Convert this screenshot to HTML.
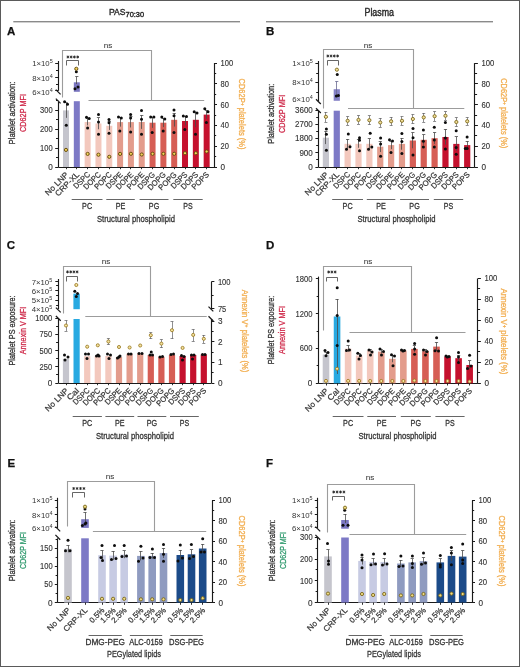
<!DOCTYPE html><html><head><meta charset="utf-8"><style>html,body{margin:0;padding:0;background:#fff;}svg{display:block;will-change:transform;}text{font-family:"Liberation Sans",sans-serif;}</style></head><body><svg width="520" height="667" viewBox="0 0 520 667"><rect x="0" y="0" width="520" height="667" fill="#ffffff"/><rect x="0.5" y="0.5" width="519" height="666" fill="none" stroke="#5a5a5a" stroke-width="1"/><text x="109" y="14.6" font-size="9.8" fill="#2a2a2a" stroke="#2a2a2a" stroke-width="0.4"><tspan textLength="16.5" lengthAdjust="spacingAndGlyphs">PAS</tspan><tspan dy="2.0" font-size="7.4" textLength="18.6" lengthAdjust="spacingAndGlyphs">70:30</tspan></text><text x="364.5" y="16.4" font-size="10" text-anchor="start" fill="#2a2a2a" textLength="29.5" lengthAdjust="spacingAndGlyphs" stroke="#2a2a2a" stroke-width="0.4">Plasma</text><rect x="13.3" y="21" width="226.7" height="1.4" fill="#8a8a8a"/><rect x="266" y="21" width="227" height="1.4" fill="#8a8a8a"/><text x="7" y="34.7" font-size="11.5" text-anchor="start" fill="#111" font-weight="bold" stroke="#111" stroke-width="0.25">A</text><text x="266" y="34.7" font-size="11.5" text-anchor="start" fill="#111" font-weight="bold" stroke="#111" stroke-width="0.25">B</text><text x="6.7" y="249.1" font-size="11.5" text-anchor="start" fill="#111" font-weight="bold" stroke="#111" stroke-width="0.25">C</text><text x="266" y="249.1" font-size="11.5" text-anchor="start" fill="#111" font-weight="bold" stroke="#111" stroke-width="0.25">D</text><text x="7.5" y="466.7" font-size="11.5" text-anchor="start" fill="#111" font-weight="bold" stroke="#111" stroke-width="0.25">E</text><text x="266" y="466.7" font-size="11.5" text-anchor="start" fill="#111" font-weight="bold" stroke="#111" stroke-width="0.25">F</text><line x1="58.5" y1="61" x2="58.5" y2="90.8" stroke="#1a1a1a" stroke-width="1.15" stroke-linecap="butt"/><line x1="58.5" y1="101.9" x2="58.5" y2="167" stroke="#1a1a1a" stroke-width="1.15" stroke-linecap="butt"/><line x1="55.2" y1="167.5" x2="58.2" y2="167.5" stroke="#1a1a1a" stroke-width="1.0" stroke-linecap="butt"/><line x1="56" y1="157.5" x2="58.2" y2="157.5" stroke="#1a1a1a" stroke-width="1.0" stroke-linecap="butt"/><line x1="55.2" y1="148.5" x2="58.2" y2="148.5" stroke="#1a1a1a" stroke-width="1.0" stroke-linecap="butt"/><line x1="56" y1="138.5" x2="58.2" y2="138.5" stroke="#1a1a1a" stroke-width="1.0" stroke-linecap="butt"/><line x1="55.2" y1="129.5" x2="58.2" y2="129.5" stroke="#1a1a1a" stroke-width="1.0" stroke-linecap="butt"/><line x1="56" y1="119.5" x2="58.2" y2="119.5" stroke="#1a1a1a" stroke-width="1.0" stroke-linecap="butt"/><line x1="55.2" y1="110.5" x2="58.2" y2="110.5" stroke="#1a1a1a" stroke-width="1.0" stroke-linecap="butt"/><line x1="56" y1="100.5" x2="58.2" y2="100.5" stroke="#1a1a1a" stroke-width="1.0" stroke-linecap="butt"/><line x1="55.2" y1="63.5" x2="58.2" y2="63.5" stroke="#1a1a1a" stroke-width="1.0" stroke-linecap="butt"/><line x1="56" y1="70.5" x2="58.2" y2="70.5" stroke="#1a1a1a" stroke-width="1.0" stroke-linecap="butt"/><line x1="55.2" y1="77.5" x2="58.2" y2="77.5" stroke="#1a1a1a" stroke-width="1.0" stroke-linecap="butt"/><line x1="56" y1="84.5" x2="58.2" y2="84.5" stroke="#1a1a1a" stroke-width="1.0" stroke-linecap="butt"/><line x1="55.2" y1="90.5" x2="58.2" y2="90.5" stroke="#1a1a1a" stroke-width="1.0" stroke-linecap="butt"/><text x="52.7" y="169.95" font-size="8.2" text-anchor="end" fill="#333333" stroke="#333" stroke-width="0.12">0</text><text x="52.7" y="150.95" font-size="8.2" text-anchor="end" fill="#333333" textLength="12.6" lengthAdjust="spacingAndGlyphs" stroke="#333" stroke-width="0.12">100</text><text x="52.7" y="131.95" font-size="8.2" text-anchor="end" fill="#333333" textLength="12.6" lengthAdjust="spacingAndGlyphs" stroke="#333" stroke-width="0.12">200</text><text x="52.7" y="112.95" font-size="8.2" text-anchor="end" fill="#333333" textLength="12.6" lengthAdjust="spacingAndGlyphs" stroke="#333" stroke-width="0.12">300</text><text x="52.7" y="66.4" font-size="7.79" text-anchor="end" fill="#333333">1×10<tspan dy="-3" font-size="5.45">5</tspan></text><text x="52.7" y="80.8" font-size="7.79" text-anchor="end" fill="#333333">8×10<tspan dy="-3" font-size="5.45">4</tspan></text><text x="52.7" y="94.7" font-size="7.79" text-anchor="end" fill="#333333">6×10<tspan dy="-3" font-size="5.45">4</tspan></text><line x1="55.8" y1="89.6" x2="60.6" y2="94.4" stroke="#1a1a1a" stroke-width="1.25" stroke-linecap="butt"/><line x1="55.8" y1="98.6" x2="60.6" y2="103.4" stroke="#1a1a1a" stroke-width="1.25" stroke-linecap="butt"/><line x1="214.5" y1="63" x2="214.5" y2="167" stroke="#1a1a1a" stroke-width="1.15" stroke-linecap="butt"/><line x1="214" y1="167.5" x2="217" y2="167.5" stroke="#1a1a1a" stroke-width="1.0" stroke-linecap="butt"/><line x1="214" y1="156.5" x2="216.2" y2="156.5" stroke="#1a1a1a" stroke-width="1.0" stroke-linecap="butt"/><line x1="214" y1="146.5" x2="217" y2="146.5" stroke="#1a1a1a" stroke-width="1.0" stroke-linecap="butt"/><line x1="214" y1="135.5" x2="216.2" y2="135.5" stroke="#1a1a1a" stroke-width="1.0" stroke-linecap="butt"/><line x1="214" y1="125.5" x2="217" y2="125.5" stroke="#1a1a1a" stroke-width="1.0" stroke-linecap="butt"/><line x1="214" y1="115.5" x2="216.2" y2="115.5" stroke="#1a1a1a" stroke-width="1.0" stroke-linecap="butt"/><line x1="214" y1="104.5" x2="217" y2="104.5" stroke="#1a1a1a" stroke-width="1.0" stroke-linecap="butt"/><line x1="214" y1="94.5" x2="216.2" y2="94.5" stroke="#1a1a1a" stroke-width="1.0" stroke-linecap="butt"/><line x1="214" y1="83.5" x2="217" y2="83.5" stroke="#1a1a1a" stroke-width="1.0" stroke-linecap="butt"/><line x1="214" y1="73.5" x2="216.2" y2="73.5" stroke="#1a1a1a" stroke-width="1.0" stroke-linecap="butt"/><line x1="214" y1="63.5" x2="217" y2="63.5" stroke="#1a1a1a" stroke-width="1.0" stroke-linecap="butt"/><text x="220.5" y="169.95" font-size="8.2" text-anchor="start" fill="#333333" stroke="#333" stroke-width="0.12">0</text><text x="220.5" y="149.15" font-size="8.2" text-anchor="start" fill="#333333" textLength="8.4" lengthAdjust="spacingAndGlyphs" stroke="#333" stroke-width="0.12">20</text><text x="220.5" y="128.35" font-size="8.2" text-anchor="start" fill="#333333" textLength="8.4" lengthAdjust="spacingAndGlyphs" stroke="#333" stroke-width="0.12">40</text><text x="220.5" y="107.55" font-size="8.2" text-anchor="start" fill="#333333" textLength="8.4" lengthAdjust="spacingAndGlyphs" stroke="#333" stroke-width="0.12">60</text><text x="220.5" y="86.75" font-size="8.2" text-anchor="start" fill="#333333" textLength="8.4" lengthAdjust="spacingAndGlyphs" stroke="#333" stroke-width="0.12">80</text><text x="220.5" y="65.95" font-size="8.2" text-anchor="start" fill="#333333" textLength="12.6" lengthAdjust="spacingAndGlyphs" stroke="#333" stroke-width="0.12">100</text><line x1="58.2" y1="167.5" x2="214" y2="167.5" stroke="#1a1a1a" stroke-width="1.0" stroke-linecap="butt"/><rect x="63" y="110.4" width="6" height="56.6" fill="#c5c5cd"/><rect x="73.82" y="101.2" width="6" height="65.8" fill="#7d79c6"/><rect x="84.64" y="122" width="6" height="45" fill="#f3c8bd"/><rect x="95.46" y="123.5" width="6" height="43.5" fill="#f3c8bd"/><rect x="106.28" y="125.8" width="6" height="41.2" fill="#f3c8bd"/><rect x="117.1" y="122.1" width="6" height="44.9" fill="#e39c8c"/><rect x="127.92" y="122.1" width="6" height="44.9" fill="#e39c8c"/><rect x="138.74" y="122" width="6" height="45" fill="#e39c8c"/><rect x="149.56" y="122.7" width="6" height="44.3" fill="#d65e55"/><rect x="160.38" y="122.7" width="6" height="44.3" fill="#d65e55"/><rect x="171.2" y="119.8" width="6" height="47.2" fill="#d65e55"/><rect x="182.02" y="121" width="6" height="46" fill="#c5112e"/><rect x="192.84" y="119.8" width="6" height="47.2" fill="#c5112e"/><rect x="203.66" y="114.6" width="6" height="52.4" fill="#c5112e"/><line x1="66.5" y1="102.95" x2="66.5" y2="117.85" stroke="#4a4a4a" stroke-width="0.8" stroke-linecap="butt"/><line x1="64.4" y1="102.5" x2="67.6" y2="102.5" stroke="#4a4a4a" stroke-width="0.8" stroke-linecap="butt"/><circle cx="64.6" cy="101.7" r="1.5" fill="#0d0d0d"/><circle cx="67.5" cy="104.2" r="1.5" fill="#0d0d0d"/><circle cx="66.3" cy="125.2" r="1.5" fill="#0d0d0d"/><circle cx="66" cy="149.9" r="1.6" fill="#f3d25a" stroke="#654d0e" stroke-width="0.95"/><line x1="87.5" y1="118.6" x2="87.5" y2="125.4" stroke="#4a4a4a" stroke-width="0.8" stroke-linecap="butt"/><line x1="86.04" y1="118.5" x2="89.24" y2="118.5" stroke="#4a4a4a" stroke-width="0.8" stroke-linecap="butt"/><circle cx="86.5" cy="117.3" r="1.5" fill="#0d0d0d"/><circle cx="89.2" cy="118.4" r="1.5" fill="#0d0d0d"/><circle cx="87.6" cy="128" r="1.5" fill="#0d0d0d"/><circle cx="87.64" cy="153.9" r="1.6" fill="#f3d25a" stroke="#654d0e" stroke-width="0.95"/><line x1="98.5" y1="117.75" x2="98.5" y2="129.25" stroke="#4a4a4a" stroke-width="0.8" stroke-linecap="butt"/><line x1="96.86" y1="117.5" x2="100.06" y2="117.5" stroke="#4a4a4a" stroke-width="0.8" stroke-linecap="butt"/><circle cx="98.5" cy="114.5" r="1.5" fill="#0d0d0d"/><circle cx="98.5" cy="121.9" r="1.5" fill="#0d0d0d"/><circle cx="98.5" cy="134.2" r="1.5" fill="#0d0d0d"/><circle cx="98.46" cy="154.7" r="1.6" fill="#f3d25a" stroke="#654d0e" stroke-width="0.95"/><line x1="109.5" y1="121.68" x2="109.5" y2="129.92" stroke="#4a4a4a" stroke-width="0.8" stroke-linecap="butt"/><line x1="107.68" y1="121.5" x2="110.88" y2="121.5" stroke="#4a4a4a" stroke-width="0.8" stroke-linecap="butt"/><circle cx="109" cy="119.6" r="1.5" fill="#0d0d0d"/><circle cx="109" cy="122.7" r="1.5" fill="#0d0d0d"/><circle cx="109" cy="133.2" r="1.5" fill="#0d0d0d"/><circle cx="109.28" cy="156.8" r="1.6" fill="#f3d25a" stroke="#654d0e" stroke-width="0.95"/><line x1="120.5" y1="117.57" x2="120.5" y2="126.63" stroke="#4a4a4a" stroke-width="0.8" stroke-linecap="butt"/><line x1="118.5" y1="117.5" x2="121.7" y2="117.5" stroke="#4a4a4a" stroke-width="0.8" stroke-linecap="butt"/><circle cx="118.5" cy="116.9" r="1.5" fill="#0d0d0d"/><circle cx="121.3" cy="118" r="1.5" fill="#0d0d0d"/><circle cx="119.8" cy="131" r="1.5" fill="#0d0d0d"/><circle cx="120.1" cy="153.9" r="1.6" fill="#f3d25a" stroke="#654d0e" stroke-width="0.95"/><line x1="130.5" y1="116.74" x2="130.5" y2="127.46" stroke="#4a4a4a" stroke-width="0.8" stroke-linecap="butt"/><line x1="129.32" y1="116.5" x2="132.52" y2="116.5" stroke="#4a4a4a" stroke-width="0.8" stroke-linecap="butt"/><circle cx="130.6" cy="114.6" r="1.5" fill="#0d0d0d"/><circle cx="130.6" cy="118" r="1.5" fill="#0d0d0d"/><circle cx="130.6" cy="132.1" r="1.5" fill="#0d0d0d"/><circle cx="130.92" cy="153.8" r="1.6" fill="#f3d25a" stroke="#654d0e" stroke-width="0.95"/><line x1="141.5" y1="115.1" x2="141.5" y2="128.9" stroke="#4a4a4a" stroke-width="0.8" stroke-linecap="butt"/><line x1="140.14" y1="115.5" x2="143.34" y2="115.5" stroke="#4a4a4a" stroke-width="0.8" stroke-linecap="butt"/><circle cx="141.5" cy="110.6" r="1.5" fill="#0d0d0d"/><circle cx="141.5" cy="119.2" r="1.5" fill="#0d0d0d"/><circle cx="141.5" cy="134.2" r="1.5" fill="#0d0d0d"/><circle cx="141.74" cy="154.5" r="1.6" fill="#f3d25a" stroke="#654d0e" stroke-width="0.95"/><line x1="152.5" y1="117.57" x2="152.5" y2="127.83" stroke="#4a4a4a" stroke-width="0.8" stroke-linecap="butt"/><line x1="150.96" y1="117.5" x2="154.16" y2="117.5" stroke="#4a4a4a" stroke-width="0.8" stroke-linecap="butt"/><circle cx="150.7" cy="117.1" r="1.5" fill="#0d0d0d"/><circle cx="153.9" cy="117.1" r="1.5" fill="#0d0d0d"/><circle cx="152.2" cy="132.5" r="1.5" fill="#0d0d0d"/><circle cx="152.56" cy="153.8" r="1.6" fill="#f3d25a" stroke="#654d0e" stroke-width="0.95"/><line x1="163.5" y1="118.35" x2="163.5" y2="127.05" stroke="#4a4a4a" stroke-width="0.8" stroke-linecap="butt"/><line x1="161.78" y1="118.5" x2="164.98" y2="118.5" stroke="#4a4a4a" stroke-width="0.8" stroke-linecap="butt"/><circle cx="161.8" cy="117.1" r="1.5" fill="#0d0d0d"/><circle cx="164.8" cy="119" r="1.5" fill="#0d0d0d"/><circle cx="163.2" cy="131" r="1.5" fill="#0d0d0d"/><circle cx="163.38" cy="153.8" r="1.6" fill="#f3d25a" stroke="#654d0e" stroke-width="0.95"/><line x1="174.5" y1="113.06" x2="174.5" y2="126.54" stroke="#4a4a4a" stroke-width="0.8" stroke-linecap="butt"/><line x1="172.6" y1="113.5" x2="175.8" y2="113.5" stroke="#4a4a4a" stroke-width="0.8" stroke-linecap="butt"/><circle cx="174" cy="110" r="1.5" fill="#0d0d0d"/><circle cx="174" cy="115.8" r="1.5" fill="#0d0d0d"/><circle cx="174" cy="132.5" r="1.5" fill="#0d0d0d"/><circle cx="174.2" cy="153.8" r="1.6" fill="#f3d25a" stroke="#654d0e" stroke-width="0.95"/><line x1="185.5" y1="116.56" x2="185.5" y2="125.44" stroke="#4a4a4a" stroke-width="0.8" stroke-linecap="butt"/><line x1="183.42" y1="116.5" x2="186.62" y2="116.5" stroke="#4a4a4a" stroke-width="0.8" stroke-linecap="butt"/><circle cx="183.3" cy="116" r="1.5" fill="#0d0d0d"/><circle cx="186.5" cy="116.6" r="1.5" fill="#0d0d0d"/><circle cx="184.8" cy="129.6" r="1.5" fill="#0d0d0d"/><circle cx="185.02" cy="153.2" r="1.6" fill="#f3d25a" stroke="#654d0e" stroke-width="0.95"/><line x1="195.5" y1="112.49" x2="195.5" y2="127.11" stroke="#4a4a4a" stroke-width="0.8" stroke-linecap="butt"/><line x1="194.24" y1="112.5" x2="197.44" y2="112.5" stroke="#4a4a4a" stroke-width="0.8" stroke-linecap="butt"/><circle cx="194.2" cy="111.7" r="1.5" fill="#0d0d0d"/><circle cx="197" cy="112.9" r="1.5" fill="#0d0d0d"/><circle cx="195.5" cy="134.2" r="1.5" fill="#0d0d0d"/><circle cx="195.84" cy="153.2" r="1.6" fill="#f3d25a" stroke="#654d0e" stroke-width="0.95"/><line x1="206.5" y1="110.43" x2="206.5" y2="118.77" stroke="#4a4a4a" stroke-width="0.8" stroke-linecap="butt"/><line x1="205.06" y1="110.5" x2="208.26" y2="110.5" stroke="#4a4a4a" stroke-width="0.8" stroke-linecap="butt"/><circle cx="204.8" cy="108.8" r="1.5" fill="#0d0d0d"/><circle cx="208" cy="111.7" r="1.5" fill="#0d0d0d"/><circle cx="206.4" cy="122.5" r="1.5" fill="#0d0d0d"/><circle cx="206.66" cy="151.5" r="1.6" fill="#f3d25a" stroke="#654d0e" stroke-width="0.95"/><rect x="73.82" y="82.3" width="6" height="9.5" fill="#7a76c0"/><line x1="76.5" y1="76.6" x2="76.5" y2="84" stroke="#4a4a4a" stroke-width="0.8" stroke-linecap="butt"/><line x1="75.22" y1="76.5" x2="78.42" y2="76.5" stroke="#4a4a4a" stroke-width="0.8" stroke-linecap="butt"/><circle cx="75.02" cy="88.7" r="1.5" fill="#0d0d0d"/><circle cx="78.02" cy="87" r="1.5" fill="#0d0d0d"/><circle cx="76.32" cy="71.8" r="1.5" fill="#0d0d0d"/><circle cx="76.32" cy="68.8" r="1.6" fill="#f3d25a" stroke="#654d0e" stroke-width="0.95"/><line x1="66.5" y1="167" x2="66.5" y2="169.2" stroke="#1a1a1a" stroke-width="0.9" stroke-linecap="butt"/><text transform="translate(69,175.2) rotate(-45)" font-size="8" text-anchor="end" fill="#333333" textLength="29.4" lengthAdjust="spacingAndGlyphs" stroke="#333" stroke-width="0.2">No LNP</text><line x1="76.5" y1="167" x2="76.5" y2="169.2" stroke="#1a1a1a" stroke-width="0.9" stroke-linecap="butt"/><text transform="translate(79.82,175.2) rotate(-45)" font-size="8" text-anchor="end" fill="#333333" textLength="30.45" lengthAdjust="spacingAndGlyphs" stroke="#333" stroke-width="0.2">CRP-XL</text><line x1="87.5" y1="167" x2="87.5" y2="169.2" stroke="#1a1a1a" stroke-width="0.9" stroke-linecap="butt"/><text transform="translate(90.64,175.2) rotate(-45)" font-size="8" text-anchor="end" fill="#333333" textLength="19.95" lengthAdjust="spacingAndGlyphs" stroke="#333" stroke-width="0.2">DSPC</text><line x1="98.5" y1="167" x2="98.5" y2="169.2" stroke="#1a1a1a" stroke-width="0.9" stroke-linecap="butt"/><text transform="translate(101.46,175.2) rotate(-45)" font-size="8" text-anchor="end" fill="#333333" textLength="21" lengthAdjust="spacingAndGlyphs" stroke="#333" stroke-width="0.2">DOPC</text><line x1="109.5" y1="167" x2="109.5" y2="169.2" stroke="#1a1a1a" stroke-width="0.9" stroke-linecap="butt"/><text transform="translate(112.28,175.2) rotate(-45)" font-size="8" text-anchor="end" fill="#333333" textLength="21" lengthAdjust="spacingAndGlyphs" stroke="#333" stroke-width="0.2">POPC</text><line x1="120.5" y1="167" x2="120.5" y2="169.2" stroke="#1a1a1a" stroke-width="0.9" stroke-linecap="butt"/><text transform="translate(123.1,175.2) rotate(-45)" font-size="8" text-anchor="end" fill="#333333" textLength="19.95" lengthAdjust="spacingAndGlyphs" stroke="#333" stroke-width="0.2">DSPE</text><line x1="130.5" y1="167" x2="130.5" y2="169.2" stroke="#1a1a1a" stroke-width="0.9" stroke-linecap="butt"/><text transform="translate(133.92,175.2) rotate(-45)" font-size="8" text-anchor="end" fill="#333333" textLength="21" lengthAdjust="spacingAndGlyphs" stroke="#333" stroke-width="0.2">DOPE</text><line x1="141.5" y1="167" x2="141.5" y2="169.2" stroke="#1a1a1a" stroke-width="0.9" stroke-linecap="butt"/><text transform="translate(144.74,175.2) rotate(-45)" font-size="8" text-anchor="end" fill="#333333" textLength="21" lengthAdjust="spacingAndGlyphs" stroke="#333" stroke-width="0.2">POPE</text><line x1="152.5" y1="167" x2="152.5" y2="169.2" stroke="#1a1a1a" stroke-width="0.9" stroke-linecap="butt"/><text transform="translate(155.56,175.2) rotate(-45)" font-size="8" text-anchor="end" fill="#333333" textLength="21" lengthAdjust="spacingAndGlyphs" stroke="#333" stroke-width="0.2">DSPG</text><line x1="163.5" y1="167" x2="163.5" y2="169.2" stroke="#1a1a1a" stroke-width="0.9" stroke-linecap="butt"/><text transform="translate(166.38,175.2) rotate(-45)" font-size="8" text-anchor="end" fill="#333333" textLength="22.05" lengthAdjust="spacingAndGlyphs" stroke="#333" stroke-width="0.2">DOPG</text><line x1="174.5" y1="167" x2="174.5" y2="169.2" stroke="#1a1a1a" stroke-width="0.9" stroke-linecap="butt"/><text transform="translate(177.2,175.2) rotate(-45)" font-size="8" text-anchor="end" fill="#333333" textLength="22.05" lengthAdjust="spacingAndGlyphs" stroke="#333" stroke-width="0.2">POPG</text><line x1="185.5" y1="167" x2="185.5" y2="169.2" stroke="#1a1a1a" stroke-width="0.9" stroke-linecap="butt"/><text transform="translate(188.02,175.2) rotate(-45)" font-size="8" text-anchor="end" fill="#333333" textLength="19.95" lengthAdjust="spacingAndGlyphs" stroke="#333" stroke-width="0.2">DSPS</text><line x1="195.5" y1="167" x2="195.5" y2="169.2" stroke="#1a1a1a" stroke-width="0.9" stroke-linecap="butt"/><text transform="translate(198.84,175.2) rotate(-45)" font-size="8" text-anchor="end" fill="#333333" textLength="21" lengthAdjust="spacingAndGlyphs" stroke="#333" stroke-width="0.2">DOPS</text><line x1="206.5" y1="167" x2="206.5" y2="169.2" stroke="#1a1a1a" stroke-width="0.9" stroke-linecap="butt"/><text transform="translate(209.66,175.2) rotate(-45)" font-size="8" text-anchor="end" fill="#333333" textLength="21" lengthAdjust="spacingAndGlyphs" stroke="#333" stroke-width="0.2">POPS</text><line x1="71.7" y1="199.5" x2="102.5" y2="199.5" stroke="#555555" stroke-width="0.9" stroke-linecap="butt"/><text x="87.1" y="209.2" font-size="9.2" text-anchor="middle" fill="#333333" textLength="10" lengthAdjust="spacingAndGlyphs" stroke="#333333" stroke-width="0.3">PC</text><line x1="106.3" y1="199.5" x2="134.8" y2="199.5" stroke="#555555" stroke-width="0.9" stroke-linecap="butt"/><text x="120.55" y="209.2" font-size="9.2" text-anchor="middle" fill="#333333" textLength="9.6" lengthAdjust="spacingAndGlyphs" stroke="#333333" stroke-width="0.3">PE</text><line x1="139.6" y1="199.5" x2="168.5" y2="199.5" stroke="#555555" stroke-width="0.9" stroke-linecap="butt"/><text x="154.05" y="209.2" font-size="9.2" text-anchor="middle" fill="#333333" textLength="10.4" lengthAdjust="spacingAndGlyphs" stroke="#333333" stroke-width="0.3">PG</text><line x1="173.3" y1="199.5" x2="202.7" y2="199.5" stroke="#555555" stroke-width="0.9" stroke-linecap="butt"/><text x="188" y="209.2" font-size="9.2" text-anchor="middle" fill="#333333" textLength="9.4" lengthAdjust="spacingAndGlyphs" stroke="#333333" stroke-width="0.3">PS</text><text x="136" y="222" font-size="9.8" text-anchor="middle" fill="#333333" textLength="78" lengthAdjust="spacingAndGlyphs" stroke="#333333" stroke-width="0.3">Structural phospholipid</text><polyline points="66.5,65.5 66.5,60.5 78.5,60.5 78.5,65.5" fill="none" stroke="#555555" stroke-width="0.9"/><line x1="67.92" y1="55.55" x2="67.92" y2="58.45" stroke="#222" stroke-width="0.85"/><line x1="66.67" y1="56.27" x2="69.18" y2="57.73" stroke="#222" stroke-width="0.85"/><line x1="69.18" y1="56.27" x2="66.67" y2="57.73" stroke="#222" stroke-width="0.85"/><line x1="71.17" y1="55.55" x2="71.17" y2="58.45" stroke="#222" stroke-width="0.85"/><line x1="69.92" y1="56.27" x2="72.43" y2="57.73" stroke="#222" stroke-width="0.85"/><line x1="72.43" y1="56.27" x2="69.92" y2="57.73" stroke="#222" stroke-width="0.85"/><line x1="74.42" y1="55.55" x2="74.42" y2="58.45" stroke="#222" stroke-width="0.85"/><line x1="73.17" y1="56.27" x2="75.68" y2="57.73" stroke="#222" stroke-width="0.85"/><line x1="75.68" y1="56.27" x2="73.17" y2="57.73" stroke="#222" stroke-width="0.85"/><line x1="77.67" y1="55.55" x2="77.67" y2="58.45" stroke="#222" stroke-width="0.85"/><line x1="76.42" y1="56.27" x2="78.93" y2="57.73" stroke="#222" stroke-width="0.85"/><line x1="78.93" y1="56.27" x2="76.42" y2="57.73" stroke="#222" stroke-width="0.85"/><polyline points="62.5,97.5 62.5,50.5 151.5,50.5 151.5,100.5" fill="none" stroke="#9c9c9c" stroke-width="1.1"/><line x1="88.5" y1="100.5" x2="204.2" y2="100.5" stroke="#9c9c9c" stroke-width="1.1" stroke-linecap="butt"/><text x="108" y="48.2" font-size="7.4" text-anchor="middle" fill="#444" textLength="8.6" lengthAdjust="spacingAndGlyphs" stroke="#444" stroke-width="0.1">ns</text><text transform="translate(15,113) rotate(-90)" font-size="9" text-anchor="middle" fill="#333333" textLength="63" lengthAdjust="spacingAndGlyphs" stroke="#333333" stroke-width="0.3">Platelet activation:</text><text transform="translate(25.8,113) rotate(-90)" font-size="9" text-anchor="middle" fill="#cf2a4a" textLength="38" lengthAdjust="spacingAndGlyphs" stroke="#cf2a4a" stroke-width="0.3">CD62P MFI</text><text transform="translate(238.5,114) rotate(90)" font-size="9" text-anchor="middle" fill="#f2ae50" stroke="#f2ae50" stroke-width="0.3" textLength="71" lengthAdjust="spacingAndGlyphs">CD62P<tspan dy="-2.5" font-size="6">+</tspan><tspan dy="2.5"> platelets (%)</tspan></text><line x1="318.5" y1="61" x2="318.5" y2="101" stroke="#1a1a1a" stroke-width="1.15" stroke-linecap="butt"/><line x1="318.5" y1="111" x2="318.5" y2="167" stroke="#1a1a1a" stroke-width="1.15" stroke-linecap="butt"/><line x1="315.4" y1="167.5" x2="318.4" y2="167.5" stroke="#1a1a1a" stroke-width="1.0" stroke-linecap="butt"/><line x1="316.2" y1="159.5" x2="318.4" y2="159.5" stroke="#1a1a1a" stroke-width="1.0" stroke-linecap="butt"/><line x1="315.4" y1="152.5" x2="318.4" y2="152.5" stroke="#1a1a1a" stroke-width="1.0" stroke-linecap="butt"/><line x1="316.2" y1="145.5" x2="318.4" y2="145.5" stroke="#1a1a1a" stroke-width="1.0" stroke-linecap="butt"/><line x1="315.4" y1="138.5" x2="318.4" y2="138.5" stroke="#1a1a1a" stroke-width="1.0" stroke-linecap="butt"/><line x1="316.2" y1="131.5" x2="318.4" y2="131.5" stroke="#1a1a1a" stroke-width="1.0" stroke-linecap="butt"/><line x1="315.4" y1="124.5" x2="318.4" y2="124.5" stroke="#1a1a1a" stroke-width="1.0" stroke-linecap="butt"/><line x1="316.2" y1="117.5" x2="318.4" y2="117.5" stroke="#1a1a1a" stroke-width="1.0" stroke-linecap="butt"/><line x1="315.4" y1="110.5" x2="318.4" y2="110.5" stroke="#1a1a1a" stroke-width="1.0" stroke-linecap="butt"/><line x1="315.4" y1="63.5" x2="318.4" y2="63.5" stroke="#1a1a1a" stroke-width="1.0" stroke-linecap="butt"/><line x1="316.2" y1="73.5" x2="318.4" y2="73.5" stroke="#1a1a1a" stroke-width="1.0" stroke-linecap="butt"/><line x1="315.4" y1="82.5" x2="318.4" y2="82.5" stroke="#1a1a1a" stroke-width="1.0" stroke-linecap="butt"/><line x1="316.2" y1="92.5" x2="318.4" y2="92.5" stroke="#1a1a1a" stroke-width="1.0" stroke-linecap="butt"/><text x="312.8" y="169.95" font-size="8.2" text-anchor="end" fill="#333333" stroke="#333" stroke-width="0.12">0</text><text x="312.8" y="155.7" font-size="8.2" text-anchor="end" fill="#333333" textLength="13.4" lengthAdjust="spacingAndGlyphs" stroke="#333" stroke-width="0.12">900</text><text x="312.8" y="141.45" font-size="8.2" text-anchor="end" fill="#333333" textLength="17.8" lengthAdjust="spacingAndGlyphs" stroke="#333" stroke-width="0.12">1800</text><text x="312.8" y="127.2" font-size="8.2" text-anchor="end" fill="#333333" textLength="17.8" lengthAdjust="spacingAndGlyphs" stroke="#333" stroke-width="0.12">2700</text><text x="312.8" y="112.95" font-size="8.2" text-anchor="end" fill="#333333" textLength="17.8" lengthAdjust="spacingAndGlyphs" stroke="#333" stroke-width="0.12">3600</text><text x="312.8" y="66.3" font-size="7.79" text-anchor="end" fill="#333333">1×10<tspan dy="-3" font-size="5.45">5</tspan></text><text x="312.8" y="85" font-size="7.79" text-anchor="end" fill="#333333">8×10<tspan dy="-3" font-size="5.45">4</tspan></text><text x="312.8" y="101.8" font-size="7.79" text-anchor="end" fill="#333333">6×10<tspan dy="-3" font-size="5.45">4</tspan></text><line x1="316" y1="99.2" x2="320.8" y2="104" stroke="#1a1a1a" stroke-width="1.25" stroke-linecap="butt"/><line x1="316" y1="108.2" x2="320.8" y2="113" stroke="#1a1a1a" stroke-width="1.25" stroke-linecap="butt"/><line x1="474.5" y1="63.1" x2="474.5" y2="167" stroke="#1a1a1a" stroke-width="1.15" stroke-linecap="butt"/><line x1="474.9" y1="167.5" x2="477.9" y2="167.5" stroke="#1a1a1a" stroke-width="1.0" stroke-linecap="butt"/><line x1="474.9" y1="156.5" x2="477.1" y2="156.5" stroke="#1a1a1a" stroke-width="1.0" stroke-linecap="butt"/><line x1="474.9" y1="146.5" x2="477.9" y2="146.5" stroke="#1a1a1a" stroke-width="1.0" stroke-linecap="butt"/><line x1="474.9" y1="135.5" x2="477.1" y2="135.5" stroke="#1a1a1a" stroke-width="1.0" stroke-linecap="butt"/><line x1="474.9" y1="125.5" x2="477.9" y2="125.5" stroke="#1a1a1a" stroke-width="1.0" stroke-linecap="butt"/><line x1="474.9" y1="115.5" x2="477.1" y2="115.5" stroke="#1a1a1a" stroke-width="1.0" stroke-linecap="butt"/><line x1="474.9" y1="104.5" x2="477.9" y2="104.5" stroke="#1a1a1a" stroke-width="1.0" stroke-linecap="butt"/><line x1="474.9" y1="94.5" x2="477.1" y2="94.5" stroke="#1a1a1a" stroke-width="1.0" stroke-linecap="butt"/><line x1="474.9" y1="83.5" x2="477.9" y2="83.5" stroke="#1a1a1a" stroke-width="1.0" stroke-linecap="butt"/><line x1="474.9" y1="73.5" x2="477.1" y2="73.5" stroke="#1a1a1a" stroke-width="1.0" stroke-linecap="butt"/><line x1="474.9" y1="63.5" x2="477.9" y2="63.5" stroke="#1a1a1a" stroke-width="1.0" stroke-linecap="butt"/><text x="481.4" y="169.95" font-size="8.2" text-anchor="start" fill="#333333" stroke="#333" stroke-width="0.12">0</text><text x="481.4" y="149.17" font-size="8.2" text-anchor="start" fill="#333333" textLength="8.6" lengthAdjust="spacingAndGlyphs" stroke="#333" stroke-width="0.12">20</text><text x="481.4" y="128.39" font-size="8.2" text-anchor="start" fill="#333333" textLength="8.6" lengthAdjust="spacingAndGlyphs" stroke="#333" stroke-width="0.12">40</text><text x="481.4" y="107.61" font-size="8.2" text-anchor="start" fill="#333333" textLength="8.6" lengthAdjust="spacingAndGlyphs" stroke="#333" stroke-width="0.12">60</text><text x="481.4" y="86.83" font-size="8.2" text-anchor="start" fill="#333333" textLength="8.6" lengthAdjust="spacingAndGlyphs" stroke="#333" stroke-width="0.12">80</text><text x="481.4" y="66.05" font-size="8.2" text-anchor="start" fill="#333333" textLength="12.8" lengthAdjust="spacingAndGlyphs" stroke="#333" stroke-width="0.12">100</text><line x1="318.4" y1="167.5" x2="474.9" y2="167.5" stroke="#1a1a1a" stroke-width="1.0" stroke-linecap="butt"/><rect x="322.8" y="137.7" width="6.2" height="29.3" fill="#c5c5cd"/><rect x="333.67" y="110.7" width="6.2" height="56.3" fill="#7d79c6"/><rect x="344.54" y="143.8" width="6.2" height="23.2" fill="#f3c8bd"/><rect x="355.41" y="143.8" width="6.2" height="23.2" fill="#f3c8bd"/><rect x="366.28" y="143.8" width="6.2" height="23.2" fill="#f3c8bd"/><rect x="377.15" y="146.7" width="6.2" height="20.3" fill="#e39c8c"/><rect x="388.02" y="145.1" width="6.2" height="21.9" fill="#e39c8c"/><rect x="398.89" y="143.9" width="6.2" height="23.1" fill="#e39c8c"/><rect x="409.76" y="140.5" width="6.2" height="26.5" fill="#d65e55"/><rect x="420.63" y="139.8" width="6.2" height="27.2" fill="#d65e55"/><rect x="431.5" y="138.2" width="6.2" height="28.8" fill="#d65e55"/><rect x="442.37" y="137" width="6.2" height="30" fill="#c5112e"/><rect x="453.24" y="143.9" width="6.2" height="23.1" fill="#c5112e"/><rect x="464.11" y="145.1" width="6.2" height="21.9" fill="#c5112e"/><line x1="325.5" y1="131.31" x2="325.5" y2="144.09" stroke="#4a4a4a" stroke-width="0.8" stroke-linecap="butt"/><line x1="324.3" y1="131.5" x2="327.5" y2="131.5" stroke="#4a4a4a" stroke-width="0.8" stroke-linecap="butt"/><circle cx="326.4" cy="128.9" r="1.5" fill="#0d0d0d"/><circle cx="326.4" cy="134.3" r="1.5" fill="#0d0d0d"/><circle cx="326.4" cy="150.2" r="1.5" fill="#0d0d0d"/><line x1="325.5" y1="112" x2="325.5" y2="122" stroke="#5e5e62" stroke-width="0.7" stroke-linecap="butt"/><line x1="324.4" y1="112.5" x2="327.4" y2="112.5" stroke="#5e5e62" stroke-width="0.7" stroke-linecap="butt"/><line x1="324.4" y1="122.5" x2="327.4" y2="122.5" stroke="#5e5e62" stroke-width="0.7" stroke-linecap="butt"/><circle cx="325.9" cy="116.8" r="1.6" fill="#f3e09a" stroke="#7e6a1c" stroke-width="0.9"/><line x1="347.5" y1="139.11" x2="347.5" y2="148.49" stroke="#4a4a4a" stroke-width="0.8" stroke-linecap="butt"/><line x1="346.04" y1="139.5" x2="349.24" y2="139.5" stroke="#4a4a4a" stroke-width="0.8" stroke-linecap="butt"/><circle cx="348.3" cy="134.1" r="1.5" fill="#0d0d0d"/><circle cx="346.5" cy="149.3" r="1.5" fill="#0d0d0d"/><circle cx="350" cy="146.7" r="1.5" fill="#0d0d0d"/><line x1="347.5" y1="116.5" x2="347.5" y2="125" stroke="#5e5e62" stroke-width="0.7" stroke-linecap="butt"/><line x1="346.14" y1="116.5" x2="349.14" y2="116.5" stroke="#5e5e62" stroke-width="0.7" stroke-linecap="butt"/><line x1="346.14" y1="125.5" x2="349.14" y2="125.5" stroke="#5e5e62" stroke-width="0.7" stroke-linecap="butt"/><circle cx="347.64" cy="120.8" r="1.6" fill="#f3e09a" stroke="#7e6a1c" stroke-width="0.9"/><line x1="358.5" y1="139.83" x2="358.5" y2="147.77" stroke="#4a4a4a" stroke-width="0.8" stroke-linecap="butt"/><line x1="356.91" y1="139.5" x2="360.11" y2="139.5" stroke="#4a4a4a" stroke-width="0.8" stroke-linecap="butt"/><circle cx="359.5" cy="137.7" r="1.5" fill="#0d0d0d"/><circle cx="359.5" cy="140.3" r="1.5" fill="#0d0d0d"/><circle cx="359.5" cy="150.7" r="1.5" fill="#0d0d0d"/><line x1="358.5" y1="115.5" x2="358.5" y2="124" stroke="#5e5e62" stroke-width="0.7" stroke-linecap="butt"/><line x1="357.01" y1="115.5" x2="360.01" y2="115.5" stroke="#5e5e62" stroke-width="0.7" stroke-linecap="butt"/><line x1="357.01" y1="124.5" x2="360.01" y2="124.5" stroke="#5e5e62" stroke-width="0.7" stroke-linecap="butt"/><circle cx="358.51" cy="119.9" r="1.6" fill="#f3e09a" stroke="#7e6a1c" stroke-width="0.9"/><line x1="369.5" y1="138.77" x2="369.5" y2="148.83" stroke="#4a4a4a" stroke-width="0.8" stroke-linecap="butt"/><line x1="367.78" y1="138.5" x2="370.98" y2="138.5" stroke="#4a4a4a" stroke-width="0.8" stroke-linecap="butt"/><circle cx="370.2" cy="133.2" r="1.5" fill="#0d0d0d"/><circle cx="368.5" cy="149.3" r="1.5" fill="#0d0d0d"/><circle cx="371.8" cy="147" r="1.5" fill="#0d0d0d"/><line x1="369.5" y1="115.8" x2="369.5" y2="124.5" stroke="#5e5e62" stroke-width="0.7" stroke-linecap="butt"/><line x1="367.88" y1="115.5" x2="370.88" y2="115.5" stroke="#5e5e62" stroke-width="0.7" stroke-linecap="butt"/><line x1="367.88" y1="124.5" x2="370.88" y2="124.5" stroke="#5e5e62" stroke-width="0.7" stroke-linecap="butt"/><circle cx="369.38" cy="120.2" r="1.6" fill="#f3e09a" stroke="#7e6a1c" stroke-width="0.9"/><line x1="380.5" y1="141.35" x2="380.5" y2="152.05" stroke="#4a4a4a" stroke-width="0.8" stroke-linecap="butt"/><line x1="378.65" y1="141.5" x2="381.85" y2="141.5" stroke="#4a4a4a" stroke-width="0.8" stroke-linecap="butt"/><circle cx="380.6" cy="138" r="1.5" fill="#0d0d0d"/><circle cx="380.6" cy="144.1" r="1.5" fill="#0d0d0d"/><circle cx="380.6" cy="156.2" r="1.5" fill="#0d0d0d"/><line x1="380.5" y1="118" x2="380.5" y2="127" stroke="#5e5e62" stroke-width="0.7" stroke-linecap="butt"/><line x1="378.75" y1="118.5" x2="381.75" y2="118.5" stroke="#5e5e62" stroke-width="0.7" stroke-linecap="butt"/><line x1="378.75" y1="127.5" x2="381.75" y2="127.5" stroke="#5e5e62" stroke-width="0.7" stroke-linecap="butt"/><circle cx="380.25" cy="122.5" r="1.6" fill="#f3e09a" stroke="#7e6a1c" stroke-width="0.9"/><line x1="391.5" y1="141.05" x2="391.5" y2="149.15" stroke="#4a4a4a" stroke-width="0.8" stroke-linecap="butt"/><line x1="389.52" y1="141.5" x2="392.72" y2="141.5" stroke="#4a4a4a" stroke-width="0.8" stroke-linecap="butt"/><circle cx="389.5" cy="139.8" r="1.5" fill="#0d0d0d"/><circle cx="392.5" cy="141" r="1.5" fill="#0d0d0d"/><circle cx="391" cy="152.5" r="1.5" fill="#0d0d0d"/><line x1="391.5" y1="117" x2="391.5" y2="125.5" stroke="#5e5e62" stroke-width="0.7" stroke-linecap="butt"/><line x1="389.62" y1="117.5" x2="392.62" y2="117.5" stroke="#5e5e62" stroke-width="0.7" stroke-linecap="butt"/><line x1="389.62" y1="125.5" x2="392.62" y2="125.5" stroke="#5e5e62" stroke-width="0.7" stroke-linecap="butt"/><circle cx="391.12" cy="121.3" r="1.6" fill="#f3e09a" stroke="#7e6a1c" stroke-width="0.9"/><line x1="401.5" y1="138.06" x2="401.5" y2="149.74" stroke="#4a4a4a" stroke-width="0.8" stroke-linecap="butt"/><line x1="400.39" y1="138.5" x2="403.59" y2="138.5" stroke="#4a4a4a" stroke-width="0.8" stroke-linecap="butt"/><circle cx="401.9" cy="133.5" r="1.5" fill="#0d0d0d"/><circle cx="401.9" cy="141.6" r="1.5" fill="#0d0d0d"/><circle cx="401.9" cy="153.6" r="1.5" fill="#0d0d0d"/><line x1="401.5" y1="116.5" x2="401.5" y2="125" stroke="#5e5e62" stroke-width="0.7" stroke-linecap="butt"/><line x1="400.49" y1="116.5" x2="403.49" y2="116.5" stroke="#5e5e62" stroke-width="0.7" stroke-linecap="butt"/><line x1="400.49" y1="125.5" x2="403.49" y2="125.5" stroke="#5e5e62" stroke-width="0.7" stroke-linecap="butt"/><circle cx="401.99" cy="120.8" r="1.6" fill="#f3e09a" stroke="#7e6a1c" stroke-width="0.9"/><line x1="412.5" y1="132.73" x2="412.5" y2="148.27" stroke="#4a4a4a" stroke-width="0.8" stroke-linecap="butt"/><line x1="411.26" y1="132.5" x2="414.46" y2="132.5" stroke="#4a4a4a" stroke-width="0.8" stroke-linecap="butt"/><circle cx="413" cy="128.5" r="1.5" fill="#0d0d0d"/><circle cx="413" cy="137.7" r="1.5" fill="#0d0d0d"/><circle cx="413" cy="155" r="1.5" fill="#0d0d0d"/><line x1="412.5" y1="114.5" x2="412.5" y2="123.5" stroke="#5e5e62" stroke-width="0.7" stroke-linecap="butt"/><line x1="411.36" y1="114.5" x2="414.36" y2="114.5" stroke="#5e5e62" stroke-width="0.7" stroke-linecap="butt"/><line x1="411.36" y1="123.5" x2="414.36" y2="123.5" stroke="#5e5e62" stroke-width="0.7" stroke-linecap="butt"/><circle cx="412.86" cy="119" r="1.6" fill="#f3e09a" stroke="#7e6a1c" stroke-width="0.9"/><line x1="423.5" y1="134.81" x2="423.5" y2="144.79" stroke="#4a4a4a" stroke-width="0.8" stroke-linecap="butt"/><line x1="422.13" y1="134.5" x2="425.33" y2="134.5" stroke="#4a4a4a" stroke-width="0.8" stroke-linecap="butt"/><circle cx="423.4" cy="130" r="1.5" fill="#0d0d0d"/><circle cx="423.4" cy="141.2" r="1.5" fill="#0d0d0d"/><circle cx="423.4" cy="147" r="1.5" fill="#0d0d0d"/><line x1="423.5" y1="113" x2="423.5" y2="122" stroke="#5e5e62" stroke-width="0.7" stroke-linecap="butt"/><line x1="422.23" y1="113.5" x2="425.23" y2="113.5" stroke="#5e5e62" stroke-width="0.7" stroke-linecap="butt"/><line x1="422.23" y1="122.5" x2="425.23" y2="122.5" stroke="#5e5e62" stroke-width="0.7" stroke-linecap="butt"/><circle cx="423.73" cy="117.4" r="1.6" fill="#f3e09a" stroke="#7e6a1c" stroke-width="0.9"/><line x1="434.5" y1="132.43" x2="434.5" y2="143.97" stroke="#4a4a4a" stroke-width="0.8" stroke-linecap="butt"/><line x1="433" y1="132.5" x2="436.2" y2="132.5" stroke="#4a4a4a" stroke-width="0.8" stroke-linecap="butt"/><circle cx="434.3" cy="127.3" r="1.5" fill="#0d0d0d"/><circle cx="434.3" cy="140" r="1.5" fill="#0d0d0d"/><circle cx="434.3" cy="147" r="1.5" fill="#0d0d0d"/><line x1="434.5" y1="111.5" x2="434.5" y2="121" stroke="#5e5e62" stroke-width="0.7" stroke-linecap="butt"/><line x1="433.1" y1="111.5" x2="436.1" y2="111.5" stroke="#5e5e62" stroke-width="0.7" stroke-linecap="butt"/><line x1="433.1" y1="121.5" x2="436.1" y2="121.5" stroke="#5e5e62" stroke-width="0.7" stroke-linecap="butt"/><circle cx="434.6" cy="116.2" r="1.6" fill="#f3e09a" stroke="#7e6a1c" stroke-width="0.9"/><line x1="445.5" y1="129.28" x2="445.5" y2="144.72" stroke="#4a4a4a" stroke-width="0.8" stroke-linecap="butt"/><line x1="443.87" y1="129.5" x2="447.07" y2="129.5" stroke="#4a4a4a" stroke-width="0.8" stroke-linecap="butt"/><circle cx="445.4" cy="122.4" r="1.5" fill="#0d0d0d"/><circle cx="445.4" cy="138" r="1.5" fill="#0d0d0d"/><circle cx="445.4" cy="149" r="1.5" fill="#0d0d0d"/><line x1="445.5" y1="111.5" x2="445.5" y2="120" stroke="#5e5e62" stroke-width="0.7" stroke-linecap="butt"/><line x1="443.97" y1="111.5" x2="446.97" y2="111.5" stroke="#5e5e62" stroke-width="0.7" stroke-linecap="butt"/><line x1="443.97" y1="120.5" x2="446.97" y2="120.5" stroke="#5e5e62" stroke-width="0.7" stroke-linecap="butt"/><circle cx="445.47" cy="115.8" r="1.6" fill="#f3e09a" stroke="#7e6a1c" stroke-width="0.9"/><line x1="456.5" y1="136.93" x2="456.5" y2="150.87" stroke="#4a4a4a" stroke-width="0.8" stroke-linecap="butt"/><line x1="454.74" y1="136.5" x2="457.94" y2="136.5" stroke="#4a4a4a" stroke-width="0.8" stroke-linecap="butt"/><circle cx="456.2" cy="130.8" r="1.5" fill="#0d0d0d"/><circle cx="456.2" cy="147.4" r="1.5" fill="#0d0d0d"/><circle cx="456.2" cy="154.3" r="1.5" fill="#0d0d0d"/><line x1="456.5" y1="117.5" x2="456.5" y2="126.5" stroke="#5e5e62" stroke-width="0.7" stroke-linecap="butt"/><line x1="454.84" y1="117.5" x2="457.84" y2="117.5" stroke="#5e5e62" stroke-width="0.7" stroke-linecap="butt"/><line x1="454.84" y1="126.5" x2="457.84" y2="126.5" stroke="#5e5e62" stroke-width="0.7" stroke-linecap="butt"/><circle cx="456.34" cy="122" r="1.6" fill="#f3e09a" stroke="#7e6a1c" stroke-width="0.9"/><line x1="467.5" y1="141.27" x2="467.5" y2="148.93" stroke="#4a4a4a" stroke-width="0.8" stroke-linecap="butt"/><line x1="465.61" y1="141.5" x2="468.81" y2="141.5" stroke="#4a4a4a" stroke-width="0.8" stroke-linecap="butt"/><circle cx="467.1" cy="137" r="1.5" fill="#0d0d0d"/><circle cx="467.1" cy="148.5" r="1.5" fill="#0d0d0d"/><circle cx="465.3" cy="148.5" r="1.5" fill="#0d0d0d"/><line x1="467.5" y1="117.5" x2="467.5" y2="125" stroke="#5e5e62" stroke-width="0.7" stroke-linecap="butt"/><line x1="465.71" y1="117.5" x2="468.71" y2="117.5" stroke="#5e5e62" stroke-width="0.7" stroke-linecap="butt"/><line x1="465.71" y1="125.5" x2="468.71" y2="125.5" stroke="#5e5e62" stroke-width="0.7" stroke-linecap="butt"/><circle cx="467.21" cy="121.3" r="1.6" fill="#f3e09a" stroke="#7e6a1c" stroke-width="0.9"/><rect x="333.67" y="89.2" width="6.2" height="11.6" fill="#8582c6"/><line x1="336.5" y1="81.4" x2="336.5" y2="97" stroke="#6a6a90" stroke-width="0.8" stroke-linecap="butt"/><line x1="335.17" y1="81.5" x2="338.37" y2="81.5" stroke="#6a6a90" stroke-width="0.8" stroke-linecap="butt"/><circle cx="336.37" cy="96" r="1.5" fill="#0d0d0d"/><circle cx="338.37" cy="95.5" r="1.5" fill="#0d0d0d"/><circle cx="337.27" cy="74.5" r="1.5" fill="#0d0d0d"/><circle cx="336.87" cy="69.7" r="1.6" fill="#f3e09a" stroke="#7e6a1c" stroke-width="0.9"/><line x1="325.5" y1="167" x2="325.5" y2="169.2" stroke="#1a1a1a" stroke-width="0.9" stroke-linecap="butt"/><text transform="translate(328.9,175.2) rotate(-45)" font-size="8" text-anchor="end" fill="#333333" textLength="29.4" lengthAdjust="spacingAndGlyphs" stroke="#333" stroke-width="0.2">No LNP</text><line x1="336.5" y1="167" x2="336.5" y2="169.2" stroke="#1a1a1a" stroke-width="0.9" stroke-linecap="butt"/><text transform="translate(339.77,175.2) rotate(-45)" font-size="8" text-anchor="end" fill="#333333" textLength="30.45" lengthAdjust="spacingAndGlyphs" stroke="#333" stroke-width="0.2">CRP-XL</text><line x1="347.5" y1="167" x2="347.5" y2="169.2" stroke="#1a1a1a" stroke-width="0.9" stroke-linecap="butt"/><text transform="translate(350.64,175.2) rotate(-45)" font-size="8" text-anchor="end" fill="#333333" textLength="19.95" lengthAdjust="spacingAndGlyphs" stroke="#333" stroke-width="0.2">DSPC</text><line x1="358.5" y1="167" x2="358.5" y2="169.2" stroke="#1a1a1a" stroke-width="0.9" stroke-linecap="butt"/><text transform="translate(361.51,175.2) rotate(-45)" font-size="8" text-anchor="end" fill="#333333" textLength="21" lengthAdjust="spacingAndGlyphs" stroke="#333" stroke-width="0.2">DOPC</text><line x1="369.5" y1="167" x2="369.5" y2="169.2" stroke="#1a1a1a" stroke-width="0.9" stroke-linecap="butt"/><text transform="translate(372.38,175.2) rotate(-45)" font-size="8" text-anchor="end" fill="#333333" textLength="21" lengthAdjust="spacingAndGlyphs" stroke="#333" stroke-width="0.2">POPC</text><line x1="380.5" y1="167" x2="380.5" y2="169.2" stroke="#1a1a1a" stroke-width="0.9" stroke-linecap="butt"/><text transform="translate(383.25,175.2) rotate(-45)" font-size="8" text-anchor="end" fill="#333333" textLength="19.95" lengthAdjust="spacingAndGlyphs" stroke="#333" stroke-width="0.2">DSPE</text><line x1="391.5" y1="167" x2="391.5" y2="169.2" stroke="#1a1a1a" stroke-width="0.9" stroke-linecap="butt"/><text transform="translate(394.12,175.2) rotate(-45)" font-size="8" text-anchor="end" fill="#333333" textLength="21" lengthAdjust="spacingAndGlyphs" stroke="#333" stroke-width="0.2">DOPE</text><line x1="401.5" y1="167" x2="401.5" y2="169.2" stroke="#1a1a1a" stroke-width="0.9" stroke-linecap="butt"/><text transform="translate(404.99,175.2) rotate(-45)" font-size="8" text-anchor="end" fill="#333333" textLength="21" lengthAdjust="spacingAndGlyphs" stroke="#333" stroke-width="0.2">POPE</text><line x1="412.5" y1="167" x2="412.5" y2="169.2" stroke="#1a1a1a" stroke-width="0.9" stroke-linecap="butt"/><text transform="translate(415.86,175.2) rotate(-45)" font-size="8" text-anchor="end" fill="#333333" textLength="21" lengthAdjust="spacingAndGlyphs" stroke="#333" stroke-width="0.2">DSPG</text><line x1="423.5" y1="167" x2="423.5" y2="169.2" stroke="#1a1a1a" stroke-width="0.9" stroke-linecap="butt"/><text transform="translate(426.73,175.2) rotate(-45)" font-size="8" text-anchor="end" fill="#333333" textLength="22.05" lengthAdjust="spacingAndGlyphs" stroke="#333" stroke-width="0.2">DOPG</text><line x1="434.5" y1="167" x2="434.5" y2="169.2" stroke="#1a1a1a" stroke-width="0.9" stroke-linecap="butt"/><text transform="translate(437.6,175.2) rotate(-45)" font-size="8" text-anchor="end" fill="#333333" textLength="22.05" lengthAdjust="spacingAndGlyphs" stroke="#333" stroke-width="0.2">POPG</text><line x1="445.5" y1="167" x2="445.5" y2="169.2" stroke="#1a1a1a" stroke-width="0.9" stroke-linecap="butt"/><text transform="translate(448.47,175.2) rotate(-45)" font-size="8" text-anchor="end" fill="#333333" textLength="19.95" lengthAdjust="spacingAndGlyphs" stroke="#333" stroke-width="0.2">DSPS</text><line x1="456.5" y1="167" x2="456.5" y2="169.2" stroke="#1a1a1a" stroke-width="0.9" stroke-linecap="butt"/><text transform="translate(459.34,175.2) rotate(-45)" font-size="8" text-anchor="end" fill="#333333" textLength="21" lengthAdjust="spacingAndGlyphs" stroke="#333" stroke-width="0.2">DOPS</text><line x1="467.5" y1="167" x2="467.5" y2="169.2" stroke="#1a1a1a" stroke-width="0.9" stroke-linecap="butt"/><text transform="translate(470.21,175.2) rotate(-45)" font-size="8" text-anchor="end" fill="#333333" textLength="21" lengthAdjust="spacingAndGlyphs" stroke="#333" stroke-width="0.2">POPS</text><line x1="332.2" y1="199.5" x2="363" y2="199.5" stroke="#555555" stroke-width="0.9" stroke-linecap="butt"/><text x="347.6" y="209.2" font-size="9.2" text-anchor="middle" fill="#333333" textLength="10" lengthAdjust="spacingAndGlyphs" stroke="#333333" stroke-width="0.3">PC</text><line x1="366.8" y1="199.5" x2="395.3" y2="199.5" stroke="#555555" stroke-width="0.9" stroke-linecap="butt"/><text x="381.05" y="209.2" font-size="9.2" text-anchor="middle" fill="#333333" textLength="9.6" lengthAdjust="spacingAndGlyphs" stroke="#333333" stroke-width="0.3">PE</text><line x1="400.1" y1="199.5" x2="429" y2="199.5" stroke="#555555" stroke-width="0.9" stroke-linecap="butt"/><text x="414.55" y="209.2" font-size="9.2" text-anchor="middle" fill="#333333" textLength="10.4" lengthAdjust="spacingAndGlyphs" stroke="#333333" stroke-width="0.3">PG</text><line x1="433.8" y1="199.5" x2="463.2" y2="199.5" stroke="#555555" stroke-width="0.9" stroke-linecap="butt"/><text x="448.5" y="209.2" font-size="9.2" text-anchor="middle" fill="#333333" textLength="9.4" lengthAdjust="spacingAndGlyphs" stroke="#333333" stroke-width="0.3">PS</text><text x="396.5" y="222" font-size="9.8" text-anchor="middle" fill="#333333" textLength="78" lengthAdjust="spacingAndGlyphs" stroke="#333333" stroke-width="0.3">Structural phospholipid</text><polyline points="327.5,65.5 327.5,60.5 338.5,60.5 338.5,65.5" fill="none" stroke="#555555" stroke-width="0.9"/><line x1="327.82" y1="54.55" x2="327.82" y2="57.45" stroke="#222" stroke-width="0.85"/><line x1="326.57" y1="55.27" x2="329.08" y2="56.73" stroke="#222" stroke-width="0.85"/><line x1="329.08" y1="55.27" x2="326.57" y2="56.73" stroke="#222" stroke-width="0.85"/><line x1="331.07" y1="54.55" x2="331.07" y2="57.45" stroke="#222" stroke-width="0.85"/><line x1="329.82" y1="55.27" x2="332.33" y2="56.73" stroke="#222" stroke-width="0.85"/><line x1="332.33" y1="55.27" x2="329.82" y2="56.73" stroke="#222" stroke-width="0.85"/><line x1="334.32" y1="54.55" x2="334.32" y2="57.45" stroke="#222" stroke-width="0.85"/><line x1="333.07" y1="55.27" x2="335.58" y2="56.73" stroke="#222" stroke-width="0.85"/><line x1="335.58" y1="55.27" x2="333.07" y2="56.73" stroke="#222" stroke-width="0.85"/><line x1="337.57" y1="54.55" x2="337.57" y2="57.45" stroke="#222" stroke-width="0.85"/><line x1="336.32" y1="55.27" x2="338.83" y2="56.73" stroke="#222" stroke-width="0.85"/><line x1="338.83" y1="55.27" x2="336.32" y2="56.73" stroke="#222" stroke-width="0.85"/><polyline points="323.5,108.5 323.5,49.5 413.5,49.5 413.5,108.5" fill="none" stroke="#9c9c9c" stroke-width="1.1"/><line x1="348" y1="108.5" x2="464.3" y2="108.5" stroke="#9c9c9c" stroke-width="1.1" stroke-linecap="butt"/><text x="368" y="48.2" font-size="7.4" text-anchor="middle" fill="#444" textLength="8.6" lengthAdjust="spacingAndGlyphs" stroke="#444" stroke-width="0.1">ns</text><text transform="translate(274.3,113.8) rotate(-90)" font-size="9" text-anchor="middle" fill="#333333" textLength="60" lengthAdjust="spacingAndGlyphs" stroke="#333333" stroke-width="0.3">Platelet activation:</text><text transform="translate(285.2,113.8) rotate(-90)" font-size="9" text-anchor="middle" fill="#cf2a4a" textLength="38.4" lengthAdjust="spacingAndGlyphs" stroke="#cf2a4a" stroke-width="0.3">CD62P MFI</text><text transform="translate(500.8,113.2) rotate(90)" font-size="9" text-anchor="middle" fill="#f2ae50" stroke="#f2ae50" stroke-width="0.3" textLength="70" lengthAdjust="spacingAndGlyphs">CD62P<tspan dy="-2.5" font-size="6">+</tspan><tspan dy="2.5"> platelets (%)</tspan></text><line x1="58.5" y1="279" x2="58.5" y2="309" stroke="#1a1a1a" stroke-width="1.15" stroke-linecap="butt"/><line x1="58.5" y1="318.2" x2="58.5" y2="383" stroke="#1a1a1a" stroke-width="1.15" stroke-linecap="butt"/><line x1="55.3" y1="383.5" x2="58.3" y2="383.5" stroke="#1a1a1a" stroke-width="1.0" stroke-linecap="butt"/><line x1="56.1" y1="374.5" x2="58.3" y2="374.5" stroke="#1a1a1a" stroke-width="1.0" stroke-linecap="butt"/><line x1="55.3" y1="366.5" x2="58.3" y2="366.5" stroke="#1a1a1a" stroke-width="1.0" stroke-linecap="butt"/><line x1="56.1" y1="358.5" x2="58.3" y2="358.5" stroke="#1a1a1a" stroke-width="1.0" stroke-linecap="butt"/><line x1="55.3" y1="350.5" x2="58.3" y2="350.5" stroke="#1a1a1a" stroke-width="1.0" stroke-linecap="butt"/><line x1="56.1" y1="342.5" x2="58.3" y2="342.5" stroke="#1a1a1a" stroke-width="1.0" stroke-linecap="butt"/><line x1="55.3" y1="334.5" x2="58.3" y2="334.5" stroke="#1a1a1a" stroke-width="1.0" stroke-linecap="butt"/><line x1="56.1" y1="326.5" x2="58.3" y2="326.5" stroke="#1a1a1a" stroke-width="1.0" stroke-linecap="butt"/><line x1="55.3" y1="318.5" x2="58.3" y2="318.5" stroke="#1a1a1a" stroke-width="1.0" stroke-linecap="butt"/><line x1="55.3" y1="281.5" x2="58.3" y2="281.5" stroke="#1a1a1a" stroke-width="1.0" stroke-linecap="butt"/><line x1="56.1" y1="285.5" x2="58.3" y2="285.5" stroke="#1a1a1a" stroke-width="1.0" stroke-linecap="butt"/><line x1="55.3" y1="290.5" x2="58.3" y2="290.5" stroke="#1a1a1a" stroke-width="1.0" stroke-linecap="butt"/><line x1="56.1" y1="295.5" x2="58.3" y2="295.5" stroke="#1a1a1a" stroke-width="1.0" stroke-linecap="butt"/><line x1="55.3" y1="300.5" x2="58.3" y2="300.5" stroke="#1a1a1a" stroke-width="1.0" stroke-linecap="butt"/><line x1="56.1" y1="305.5" x2="58.3" y2="305.5" stroke="#1a1a1a" stroke-width="1.0" stroke-linecap="butt"/><text x="52.2" y="385.95" font-size="8.2" text-anchor="end" fill="#333333" stroke="#333" stroke-width="0.12">0</text><text x="52.2" y="369.75" font-size="8.2" text-anchor="end" fill="#333333" textLength="12.6" lengthAdjust="spacingAndGlyphs" stroke="#333" stroke-width="0.12">250</text><text x="52.2" y="353.55" font-size="8.2" text-anchor="end" fill="#333333" textLength="12.6" lengthAdjust="spacingAndGlyphs" stroke="#333" stroke-width="0.12">500</text><text x="52.2" y="337.35" font-size="8.2" text-anchor="end" fill="#333333" textLength="12.6" lengthAdjust="spacingAndGlyphs" stroke="#333" stroke-width="0.12">750</text><text x="52.2" y="321.15" font-size="8.2" text-anchor="end" fill="#333333" textLength="17" lengthAdjust="spacingAndGlyphs" stroke="#333" stroke-width="0.12">1000</text><text x="52.2" y="284.9" font-size="7.79" text-anchor="end" fill="#333333">7×10<tspan dy="-3" font-size="5.45">5</tspan></text><text x="52.2" y="294.1" font-size="7.79" text-anchor="end" fill="#333333">6×10<tspan dy="-3" font-size="5.45">5</tspan></text><text x="52.2" y="303" font-size="7.79" text-anchor="end" fill="#333333">5×10<tspan dy="-3" font-size="5.45">5</tspan></text><text x="52.2" y="312" font-size="7.79" text-anchor="end" fill="#333333">4×10<tspan dy="-3" font-size="5.45">5</tspan></text><line x1="55.9" y1="307.6" x2="60.7" y2="312.4" stroke="#1a1a1a" stroke-width="1.25" stroke-linecap="butt"/><line x1="55.9" y1="316" x2="60.7" y2="320.8" stroke="#1a1a1a" stroke-width="1.25" stroke-linecap="butt"/><line x1="211.5" y1="281.7" x2="211.5" y2="309.5" stroke="#1a1a1a" stroke-width="1.15" stroke-linecap="butt"/><line x1="211.5" y1="319" x2="211.5" y2="383" stroke="#1a1a1a" stroke-width="1.15" stroke-linecap="butt"/><line x1="211.4" y1="383.5" x2="214.4" y2="383.5" stroke="#1a1a1a" stroke-width="1.0" stroke-linecap="butt"/><line x1="211.4" y1="372.5" x2="213.6" y2="372.5" stroke="#1a1a1a" stroke-width="1.0" stroke-linecap="butt"/><line x1="211.4" y1="362.5" x2="214.4" y2="362.5" stroke="#1a1a1a" stroke-width="1.0" stroke-linecap="butt"/><line x1="211.4" y1="352.5" x2="213.6" y2="352.5" stroke="#1a1a1a" stroke-width="1.0" stroke-linecap="butt"/><line x1="211.4" y1="341.5" x2="214.4" y2="341.5" stroke="#1a1a1a" stroke-width="1.0" stroke-linecap="butt"/><line x1="211.4" y1="331.5" x2="213.6" y2="331.5" stroke="#1a1a1a" stroke-width="1.0" stroke-linecap="butt"/><line x1="211.4" y1="321.5" x2="214.4" y2="321.5" stroke="#1a1a1a" stroke-width="1.0" stroke-linecap="butt"/><line x1="211.4" y1="281.5" x2="214.4" y2="281.5" stroke="#1a1a1a" stroke-width="1.0" stroke-linecap="butt"/><line x1="211.4" y1="295.5" x2="213.6" y2="295.5" stroke="#1a1a1a" stroke-width="1.0" stroke-linecap="butt"/><line x1="211.4" y1="308.5" x2="214.4" y2="308.5" stroke="#1a1a1a" stroke-width="1.0" stroke-linecap="butt"/><text x="217.9" y="385.95" font-size="8.2" text-anchor="start" fill="#333333" stroke="#333" stroke-width="0.12">0</text><text x="217.9" y="365.38" font-size="8.2" text-anchor="start" fill="#333333" stroke="#333" stroke-width="0.12">1</text><text x="217.9" y="344.81" font-size="8.2" text-anchor="start" fill="#333333" stroke="#333" stroke-width="0.12">2</text><text x="217.9" y="324.24" font-size="8.2" text-anchor="start" fill="#333333" stroke="#333" stroke-width="0.12">3</text><text x="217.9" y="284.65" font-size="8.2" text-anchor="start" fill="#333333" textLength="12.6" lengthAdjust="spacingAndGlyphs" stroke="#333" stroke-width="0.12">100</text><text x="217.9" y="311.65" font-size="8.2" text-anchor="start" fill="#333333" textLength="8.4" lengthAdjust="spacingAndGlyphs" stroke="#333" stroke-width="0.12">75</text><line x1="208.5" y1="306.6" x2="213.3" y2="311.4" stroke="#1a1a1a" stroke-width="1.25" stroke-linecap="butt"/><line x1="208.5" y1="316.2" x2="213.3" y2="321" stroke="#1a1a1a" stroke-width="1.25" stroke-linecap="butt"/><line x1="58.3" y1="383.5" x2="211.4" y2="383.5" stroke="#1a1a1a" stroke-width="1.0" stroke-linecap="butt"/><rect x="62.9" y="358.8" width="6.2" height="24.2" fill="#c5c5cd"/><rect x="73.5" y="319" width="6.2" height="64" fill="#28a9e1"/><rect x="84.1" y="356.2" width="6.2" height="26.8" fill="#f3c8bd"/><rect x="94.7" y="356" width="6.2" height="27" fill="#f3c8bd"/><rect x="105.3" y="356" width="6.2" height="27" fill="#f3c8bd"/><rect x="115.9" y="357" width="6.2" height="26" fill="#e39c8c"/><rect x="126.5" y="353.75" width="6.2" height="29.25" fill="#e39c8c"/><rect x="137.1" y="353.5" width="6.2" height="29.5" fill="#e39c8c"/><rect x="147.7" y="355" width="6.2" height="28" fill="#d65e55"/><rect x="158.3" y="356.75" width="6.2" height="26.25" fill="#d65e55"/><rect x="168.9" y="355" width="6.2" height="28" fill="#d65e55"/><rect x="179.5" y="356" width="6.2" height="27" fill="#c5112e"/><rect x="190.1" y="355" width="6.2" height="28" fill="#c5112e"/><rect x="200.7" y="354.5" width="6.2" height="28.5" fill="#c5112e"/><circle cx="64.5" cy="355" r="1.5" fill="#0d0d0d"/><circle cx="68" cy="357" r="1.5" fill="#0d0d0d"/><circle cx="65" cy="360" r="1.5" fill="#0d0d0d"/><line x1="66.5" y1="320.5" x2="66.5" y2="331" stroke="#5e5e62" stroke-width="0.7" stroke-linecap="butt"/><line x1="64.5" y1="320.5" x2="67.5" y2="320.5" stroke="#5e5e62" stroke-width="0.7" stroke-linecap="butt"/><line x1="64.5" y1="331.5" x2="67.5" y2="331.5" stroke="#5e5e62" stroke-width="0.7" stroke-linecap="butt"/><circle cx="66" cy="325.5" r="1.55" fill="#f5e3a0" stroke="#9a7a22" stroke-width="0.85"/><circle cx="85.5" cy="354" r="1.5" fill="#0d0d0d"/><circle cx="88.5" cy="354" r="1.5" fill="#0d0d0d"/><circle cx="87" cy="358.5" r="1.5" fill="#0d0d0d"/><circle cx="87.2" cy="346.7" r="1.55" fill="#f5e3a0" stroke="#9a7a22" stroke-width="0.85"/><circle cx="96.5" cy="356" r="1.5" fill="#0d0d0d"/><circle cx="99" cy="356" r="1.5" fill="#0d0d0d"/><circle cx="98" cy="355" r="1.5" fill="#0d0d0d"/><circle cx="97.8" cy="345.3" r="1.55" fill="#f5e3a0" stroke="#9a7a22" stroke-width="0.85"/><circle cx="107.5" cy="354" r="1.5" fill="#0d0d0d"/><circle cx="110.5" cy="355" r="1.5" fill="#0d0d0d"/><circle cx="109" cy="358.5" r="1.5" fill="#0d0d0d"/><line x1="108.5" y1="338.5" x2="108.5" y2="344.5" stroke="#5e5e62" stroke-width="0.7" stroke-linecap="butt"/><line x1="106.9" y1="338.5" x2="109.9" y2="338.5" stroke="#5e5e62" stroke-width="0.7" stroke-linecap="butt"/><line x1="106.9" y1="344.5" x2="109.9" y2="344.5" stroke="#5e5e62" stroke-width="0.7" stroke-linecap="butt"/><circle cx="108.4" cy="341.5" r="1.55" fill="#f5e3a0" stroke="#9a7a22" stroke-width="0.85"/><circle cx="117.5" cy="358" r="1.5" fill="#0d0d0d"/><circle cx="120" cy="356" r="1.5" fill="#0d0d0d"/><circle cx="119" cy="357" r="1.5" fill="#0d0d0d"/><circle cx="119" cy="347" r="1.55" fill="#f5e3a0" stroke="#9a7a22" stroke-width="0.85"/><circle cx="128.5" cy="354" r="1.5" fill="#0d0d0d"/><circle cx="131" cy="354" r="1.5" fill="#0d0d0d"/><circle cx="129.6" cy="347.5" r="1.55" fill="#f5e3a0" stroke="#9a7a22" stroke-width="0.85"/><circle cx="139" cy="353.5" r="1.5" fill="#0d0d0d"/><circle cx="142" cy="353.5" r="1.5" fill="#0d0d0d"/><circle cx="140.2" cy="345.5" r="1.55" fill="#f5e3a0" stroke="#9a7a22" stroke-width="0.85"/><circle cx="150" cy="355" r="1.5" fill="#0d0d0d"/><circle cx="152.5" cy="355" r="1.5" fill="#0d0d0d"/><circle cx="151.25" cy="352" r="1.5" fill="#0d0d0d"/><line x1="150.5" y1="332.6" x2="150.5" y2="338.8" stroke="#5e5e62" stroke-width="0.7" stroke-linecap="butt"/><line x1="149.3" y1="332.5" x2="152.3" y2="332.5" stroke="#5e5e62" stroke-width="0.7" stroke-linecap="butt"/><line x1="149.3" y1="338.5" x2="152.3" y2="338.5" stroke="#5e5e62" stroke-width="0.7" stroke-linecap="butt"/><circle cx="150.8" cy="335.2" r="1.55" fill="#f5e3a0" stroke="#9a7a22" stroke-width="0.85"/><circle cx="160" cy="357" r="1.5" fill="#0d0d0d"/><circle cx="162.5" cy="356.5" r="1.5" fill="#0d0d0d"/><line x1="161.5" y1="339.5" x2="161.5" y2="347.8" stroke="#5e5e62" stroke-width="0.7" stroke-linecap="butt"/><line x1="159.9" y1="339.5" x2="162.9" y2="339.5" stroke="#5e5e62" stroke-width="0.7" stroke-linecap="butt"/><line x1="159.9" y1="347.5" x2="162.9" y2="347.5" stroke="#5e5e62" stroke-width="0.7" stroke-linecap="butt"/><circle cx="161.4" cy="343.6" r="1.55" fill="#f5e3a0" stroke="#9a7a22" stroke-width="0.85"/><circle cx="171" cy="354.5" r="1.5" fill="#0d0d0d"/><circle cx="173.5" cy="354" r="1.5" fill="#0d0d0d"/><line x1="172.5" y1="321.5" x2="172.5" y2="338.8" stroke="#5e5e62" stroke-width="0.7" stroke-linecap="butt"/><line x1="170.5" y1="321.5" x2="173.5" y2="321.5" stroke="#5e5e62" stroke-width="0.7" stroke-linecap="butt"/><line x1="170.5" y1="338.5" x2="173.5" y2="338.5" stroke="#5e5e62" stroke-width="0.7" stroke-linecap="butt"/><circle cx="172" cy="330.2" r="1.55" fill="#f5e3a0" stroke="#9a7a22" stroke-width="0.85"/><circle cx="181.5" cy="355.5" r="1.5" fill="#0d0d0d"/><circle cx="184" cy="356.5" r="1.5" fill="#0d0d0d"/><circle cx="182.5" cy="360" r="1.5" fill="#0d0d0d"/><circle cx="182.6" cy="347.9" r="1.55" fill="#f5e3a0" stroke="#9a7a22" stroke-width="0.85"/><circle cx="191.5" cy="355" r="1.5" fill="#0d0d0d"/><circle cx="194" cy="355" r="1.5" fill="#0d0d0d"/><circle cx="192.5" cy="359" r="1.5" fill="#0d0d0d"/><line x1="193.5" y1="329.4" x2="193.5" y2="341.3" stroke="#5e5e62" stroke-width="0.7" stroke-linecap="butt"/><line x1="191.7" y1="329.5" x2="194.7" y2="329.5" stroke="#5e5e62" stroke-width="0.7" stroke-linecap="butt"/><line x1="191.7" y1="341.5" x2="194.7" y2="341.5" stroke="#5e5e62" stroke-width="0.7" stroke-linecap="butt"/><circle cx="193.2" cy="334.9" r="1.55" fill="#f5e3a0" stroke="#9a7a22" stroke-width="0.85"/><circle cx="202.5" cy="354.5" r="1.5" fill="#0d0d0d"/><circle cx="205" cy="354.5" r="1.5" fill="#0d0d0d"/><line x1="203.5" y1="335" x2="203.5" y2="343" stroke="#5e5e62" stroke-width="0.7" stroke-linecap="butt"/><line x1="202.3" y1="335.5" x2="205.3" y2="335.5" stroke="#5e5e62" stroke-width="0.7" stroke-linecap="butt"/><line x1="202.3" y1="343.5" x2="205.3" y2="343.5" stroke="#5e5e62" stroke-width="0.7" stroke-linecap="butt"/><circle cx="203.8" cy="338.8" r="1.55" fill="#f5e3a0" stroke="#9a7a22" stroke-width="0.85"/><rect x="73.4" y="293.6" width="6.4" height="15.6" fill="#28a9e1"/><circle cx="74.8" cy="291.3" r="1.5" fill="#0d0d0d"/><circle cx="77.5" cy="293.6" r="1.5" fill="#0d0d0d"/><circle cx="76.3" cy="296.5" r="1.5" fill="#0d0d0d"/><circle cx="76.3" cy="285" r="1.55" fill="#f5e3a0" stroke="#9a7a22" stroke-width="0.85"/><line x1="66.5" y1="383" x2="66.5" y2="385.2" stroke="#1a1a1a" stroke-width="0.9" stroke-linecap="butt"/><text transform="translate(69,391.2) rotate(-45)" font-size="8" text-anchor="end" fill="#333333" textLength="29.4" lengthAdjust="spacingAndGlyphs" stroke="#333" stroke-width="0.2">No LNP</text><line x1="76.5" y1="383" x2="76.5" y2="385.2" stroke="#1a1a1a" stroke-width="0.9" stroke-linecap="butt"/><text transform="translate(79.6,391.2) rotate(-45)" font-size="8" text-anchor="end" fill="#333333" textLength="13.65" lengthAdjust="spacingAndGlyphs" stroke="#333" stroke-width="0.2">Cal</text><line x1="87.5" y1="383" x2="87.5" y2="385.2" stroke="#1a1a1a" stroke-width="0.9" stroke-linecap="butt"/><text transform="translate(90.2,391.2) rotate(-45)" font-size="8" text-anchor="end" fill="#333333" textLength="19.95" lengthAdjust="spacingAndGlyphs" stroke="#333" stroke-width="0.2">DSPC</text><line x1="97.5" y1="383" x2="97.5" y2="385.2" stroke="#1a1a1a" stroke-width="0.9" stroke-linecap="butt"/><text transform="translate(100.8,391.2) rotate(-45)" font-size="8" text-anchor="end" fill="#333333" textLength="21" lengthAdjust="spacingAndGlyphs" stroke="#333" stroke-width="0.2">DOPC</text><line x1="108.5" y1="383" x2="108.5" y2="385.2" stroke="#1a1a1a" stroke-width="0.9" stroke-linecap="butt"/><text transform="translate(111.4,391.2) rotate(-45)" font-size="8" text-anchor="end" fill="#333333" textLength="21" lengthAdjust="spacingAndGlyphs" stroke="#333" stroke-width="0.2">POPC</text><line x1="119.5" y1="383" x2="119.5" y2="385.2" stroke="#1a1a1a" stroke-width="0.9" stroke-linecap="butt"/><text transform="translate(122,391.2) rotate(-45)" font-size="8" text-anchor="end" fill="#333333" textLength="19.95" lengthAdjust="spacingAndGlyphs" stroke="#333" stroke-width="0.2">DSPE</text><line x1="129.5" y1="383" x2="129.5" y2="385.2" stroke="#1a1a1a" stroke-width="0.9" stroke-linecap="butt"/><text transform="translate(132.6,391.2) rotate(-45)" font-size="8" text-anchor="end" fill="#333333" textLength="21" lengthAdjust="spacingAndGlyphs" stroke="#333" stroke-width="0.2">DOPE</text><line x1="140.5" y1="383" x2="140.5" y2="385.2" stroke="#1a1a1a" stroke-width="0.9" stroke-linecap="butt"/><text transform="translate(143.2,391.2) rotate(-45)" font-size="8" text-anchor="end" fill="#333333" textLength="21" lengthAdjust="spacingAndGlyphs" stroke="#333" stroke-width="0.2">POPE</text><line x1="150.5" y1="383" x2="150.5" y2="385.2" stroke="#1a1a1a" stroke-width="0.9" stroke-linecap="butt"/><text transform="translate(153.8,391.2) rotate(-45)" font-size="8" text-anchor="end" fill="#333333" textLength="21" lengthAdjust="spacingAndGlyphs" stroke="#333" stroke-width="0.2">DSPG</text><line x1="161.5" y1="383" x2="161.5" y2="385.2" stroke="#1a1a1a" stroke-width="0.9" stroke-linecap="butt"/><text transform="translate(164.4,391.2) rotate(-45)" font-size="8" text-anchor="end" fill="#333333" textLength="22.05" lengthAdjust="spacingAndGlyphs" stroke="#333" stroke-width="0.2">DOPG</text><line x1="172.5" y1="383" x2="172.5" y2="385.2" stroke="#1a1a1a" stroke-width="0.9" stroke-linecap="butt"/><text transform="translate(175,391.2) rotate(-45)" font-size="8" text-anchor="end" fill="#333333" textLength="22.05" lengthAdjust="spacingAndGlyphs" stroke="#333" stroke-width="0.2">POPG</text><line x1="182.5" y1="383" x2="182.5" y2="385.2" stroke="#1a1a1a" stroke-width="0.9" stroke-linecap="butt"/><text transform="translate(185.6,391.2) rotate(-45)" font-size="8" text-anchor="end" fill="#333333" textLength="19.95" lengthAdjust="spacingAndGlyphs" stroke="#333" stroke-width="0.2">DSPS</text><line x1="193.5" y1="383" x2="193.5" y2="385.2" stroke="#1a1a1a" stroke-width="0.9" stroke-linecap="butt"/><text transform="translate(196.2,391.2) rotate(-45)" font-size="8" text-anchor="end" fill="#333333" textLength="21" lengthAdjust="spacingAndGlyphs" stroke="#333" stroke-width="0.2">DOPS</text><line x1="203.5" y1="383" x2="203.5" y2="385.2" stroke="#1a1a1a" stroke-width="0.9" stroke-linecap="butt"/><text transform="translate(206.8,391.2) rotate(-45)" font-size="8" text-anchor="end" fill="#333333" textLength="21" lengthAdjust="spacingAndGlyphs" stroke="#333" stroke-width="0.2">POPS</text><line x1="72.7" y1="416.5" x2="101.9" y2="416.5" stroke="#555555" stroke-width="0.9" stroke-linecap="butt"/><text x="87.3" y="426.2" font-size="9.2" text-anchor="middle" fill="#333333" textLength="10" lengthAdjust="spacingAndGlyphs" stroke="#333333" stroke-width="0.3">PC</text><line x1="105.4" y1="416.5" x2="134.2" y2="416.5" stroke="#555555" stroke-width="0.9" stroke-linecap="butt"/><text x="119.8" y="426.2" font-size="9.2" text-anchor="middle" fill="#333333" textLength="9.6" lengthAdjust="spacingAndGlyphs" stroke="#333333" stroke-width="0.3">PE</text><line x1="137.5" y1="416.5" x2="166.3" y2="416.5" stroke="#555555" stroke-width="0.9" stroke-linecap="butt"/><text x="151.9" y="426.2" font-size="9.2" text-anchor="middle" fill="#333333" textLength="10.4" lengthAdjust="spacingAndGlyphs" stroke="#333333" stroke-width="0.3">PG</text><line x1="170" y1="416.5" x2="198.8" y2="416.5" stroke="#555555" stroke-width="0.9" stroke-linecap="butt"/><text x="184.4" y="426.2" font-size="9.2" text-anchor="middle" fill="#333333" textLength="9.4" lengthAdjust="spacingAndGlyphs" stroke="#333333" stroke-width="0.3">PS</text><text x="135" y="438.7" font-size="9.8" text-anchor="middle" fill="#333333" textLength="78" lengthAdjust="spacingAndGlyphs" stroke="#333333" stroke-width="0.3">Structural phospholipid</text><polyline points="66.5,281.5 66.5,276.5 77.5,276.5 77.5,281.5" fill="none" stroke="#555555" stroke-width="0.9"/><line x1="67.5" y1="270.45" x2="67.5" y2="273.35" stroke="#222" stroke-width="0.85"/><line x1="66.24" y1="271.17" x2="68.76" y2="272.62" stroke="#222" stroke-width="0.85"/><line x1="68.76" y1="271.17" x2="66.24" y2="272.62" stroke="#222" stroke-width="0.85"/><line x1="70.7" y1="270.45" x2="70.7" y2="273.35" stroke="#222" stroke-width="0.85"/><line x1="69.44" y1="271.17" x2="71.96" y2="272.62" stroke="#222" stroke-width="0.85"/><line x1="71.96" y1="271.17" x2="69.44" y2="272.62" stroke="#222" stroke-width="0.85"/><line x1="73.9" y1="270.45" x2="73.9" y2="273.35" stroke="#222" stroke-width="0.85"/><line x1="72.64" y1="271.17" x2="75.16" y2="272.62" stroke="#222" stroke-width="0.85"/><line x1="75.16" y1="271.17" x2="72.64" y2="272.62" stroke="#222" stroke-width="0.85"/><line x1="77.1" y1="270.45" x2="77.1" y2="273.35" stroke="#222" stroke-width="0.85"/><line x1="75.84" y1="271.17" x2="78.36" y2="272.62" stroke="#222" stroke-width="0.85"/><line x1="78.36" y1="271.17" x2="75.84" y2="272.62" stroke="#222" stroke-width="0.85"/><polyline points="63.5,313.5 63.5,266.5 150.5,266.5 150.5,316.5" fill="none" stroke="#9c9c9c" stroke-width="1.1"/><line x1="85.3" y1="316.5" x2="206.7" y2="316.5" stroke="#9c9c9c" stroke-width="1.1" stroke-linecap="butt"/><text x="106" y="263.5" font-size="7.4" text-anchor="middle" fill="#444" textLength="8.6" lengthAdjust="spacingAndGlyphs" stroke="#444" stroke-width="0.1">ns</text><text transform="translate(15,330.5) rotate(-90)" font-size="9" text-anchor="middle" fill="#333333" textLength="70" lengthAdjust="spacingAndGlyphs" stroke="#333333" stroke-width="0.3">Platelet PS exposure:</text><text transform="translate(25.6,330.5) rotate(-90)" font-size="9" text-anchor="middle" fill="#cf2a4a" textLength="47.6" lengthAdjust="spacingAndGlyphs" stroke="#cf2a4a" stroke-width="0.3">Annexin V MFI</text><text transform="translate(242.4,331) rotate(90)" font-size="9" text-anchor="middle" fill="#f2ae50" stroke="#f2ae50" stroke-width="0.3" textLength="82.7" lengthAdjust="spacingAndGlyphs">Annexin V<tspan dy="-2.5" font-size="6">+</tspan><tspan dy="2.5"> platelets (%)</tspan></text><line x1="318.5" y1="276.6" x2="318.5" y2="383.3" stroke="#1a1a1a" stroke-width="1.15" stroke-linecap="butt"/><line x1="315.85" y1="383.5" x2="318.85" y2="383.5" stroke="#1a1a1a" stroke-width="1.0" stroke-linecap="butt"/><line x1="316.65" y1="365.5" x2="318.85" y2="365.5" stroke="#1a1a1a" stroke-width="1.0" stroke-linecap="butt"/><line x1="315.85" y1="348.5" x2="318.85" y2="348.5" stroke="#1a1a1a" stroke-width="1.0" stroke-linecap="butt"/><line x1="316.65" y1="331.5" x2="318.85" y2="331.5" stroke="#1a1a1a" stroke-width="1.0" stroke-linecap="butt"/><line x1="315.85" y1="313.5" x2="318.85" y2="313.5" stroke="#1a1a1a" stroke-width="1.0" stroke-linecap="butt"/><line x1="316.65" y1="296.5" x2="318.85" y2="296.5" stroke="#1a1a1a" stroke-width="1.0" stroke-linecap="butt"/><line x1="315.85" y1="278.5" x2="318.85" y2="278.5" stroke="#1a1a1a" stroke-width="1.0" stroke-linecap="butt"/><text x="312.4" y="386.25" font-size="8.2" text-anchor="end" fill="#333333" stroke="#333" stroke-width="0.12">0</text><text x="312.4" y="351.45" font-size="8.2" text-anchor="end" fill="#333333" textLength="12.6" lengthAdjust="spacingAndGlyphs" stroke="#333" stroke-width="0.12">600</text><text x="312.4" y="316.65" font-size="8.2" text-anchor="end" fill="#333333" textLength="17" lengthAdjust="spacingAndGlyphs" stroke="#333" stroke-width="0.12">1200</text><text x="312.4" y="281.85" font-size="8.2" text-anchor="end" fill="#333333" textLength="17" lengthAdjust="spacingAndGlyphs" stroke="#333" stroke-width="0.12">1800</text><line x1="477.5" y1="278.5" x2="477.5" y2="383.3" stroke="#1a1a1a" stroke-width="1.15" stroke-linecap="butt"/><line x1="477.9" y1="383.5" x2="480.9" y2="383.5" stroke="#1a1a1a" stroke-width="1.0" stroke-linecap="butt"/><line x1="477.9" y1="372.5" x2="480.1" y2="372.5" stroke="#1a1a1a" stroke-width="1.0" stroke-linecap="butt"/><line x1="477.9" y1="362.5" x2="480.9" y2="362.5" stroke="#1a1a1a" stroke-width="1.0" stroke-linecap="butt"/><line x1="477.9" y1="351.5" x2="480.1" y2="351.5" stroke="#1a1a1a" stroke-width="1.0" stroke-linecap="butt"/><line x1="477.9" y1="341.5" x2="480.9" y2="341.5" stroke="#1a1a1a" stroke-width="1.0" stroke-linecap="butt"/><line x1="477.9" y1="330.5" x2="480.1" y2="330.5" stroke="#1a1a1a" stroke-width="1.0" stroke-linecap="butt"/><line x1="477.9" y1="320.5" x2="480.9" y2="320.5" stroke="#1a1a1a" stroke-width="1.0" stroke-linecap="butt"/><line x1="477.9" y1="309.5" x2="480.1" y2="309.5" stroke="#1a1a1a" stroke-width="1.0" stroke-linecap="butt"/><line x1="477.9" y1="299.5" x2="480.9" y2="299.5" stroke="#1a1a1a" stroke-width="1.0" stroke-linecap="butt"/><line x1="477.9" y1="288.5" x2="480.1" y2="288.5" stroke="#1a1a1a" stroke-width="1.0" stroke-linecap="butt"/><line x1="477.9" y1="278.5" x2="480.9" y2="278.5" stroke="#1a1a1a" stroke-width="1.0" stroke-linecap="butt"/><text x="484.4" y="386.25" font-size="8.2" text-anchor="start" fill="#333333" stroke="#333" stroke-width="0.12">0</text><text x="484.4" y="365.29" font-size="8.2" text-anchor="start" fill="#333333" textLength="8.6" lengthAdjust="spacingAndGlyphs" stroke="#333" stroke-width="0.12">20</text><text x="484.4" y="344.33" font-size="8.2" text-anchor="start" fill="#333333" textLength="8.6" lengthAdjust="spacingAndGlyphs" stroke="#333" stroke-width="0.12">40</text><text x="484.4" y="323.37" font-size="8.2" text-anchor="start" fill="#333333" textLength="8.6" lengthAdjust="spacingAndGlyphs" stroke="#333" stroke-width="0.12">60</text><text x="484.4" y="302.41" font-size="8.2" text-anchor="start" fill="#333333" textLength="8.6" lengthAdjust="spacingAndGlyphs" stroke="#333" stroke-width="0.12">80</text><text x="484.4" y="281.45" font-size="8.2" text-anchor="start" fill="#333333" textLength="12.8" lengthAdjust="spacingAndGlyphs" stroke="#333" stroke-width="0.12">100</text><line x1="318.85" y1="383.5" x2="477.9" y2="383.5" stroke="#1a1a1a" stroke-width="1.0" stroke-linecap="butt"/><rect x="322.7" y="354.5" width="6.6" height="28.8" fill="#c5c5cd"/><rect x="333.75" y="316.5" width="6.6" height="66.8" fill="#28a9e1"/><rect x="344.8" y="348.7" width="6.6" height="34.6" fill="#f3c8bd"/><rect x="355.85" y="355.5" width="6.6" height="27.8" fill="#f3c8bd"/><rect x="366.9" y="350.6" width="6.6" height="32.7" fill="#f3c8bd"/><rect x="377.95" y="351.6" width="6.6" height="31.7" fill="#e39c8c"/><rect x="389" y="358.8" width="6.6" height="24.5" fill="#e39c8c"/><rect x="400.05" y="350.5" width="6.6" height="32.8" fill="#e39c8c"/><rect x="411.1" y="348.9" width="6.6" height="34.4" fill="#d65e55"/><rect x="422.15" y="351.2" width="6.6" height="32.1" fill="#d65e55"/><rect x="433.2" y="346.6" width="6.6" height="36.7" fill="#d65e55"/><rect x="444.25" y="356.5" width="6.6" height="26.8" fill="#c5112e"/><rect x="455.3" y="358.2" width="6.6" height="25.1" fill="#c5112e"/><rect x="466.35" y="365" width="6.6" height="18.3" fill="#c5112e"/><line x1="326.5" y1="352.99" x2="326.5" y2="356.01" stroke="#4a4a4a" stroke-width="0.8" stroke-linecap="butt"/><line x1="324.4" y1="352.5" x2="327.6" y2="352.5" stroke="#4a4a4a" stroke-width="0.8" stroke-linecap="butt"/><circle cx="325" cy="350.6" r="1.5" fill="#0d0d0d"/><circle cx="328" cy="352.6" r="1.5" fill="#0d0d0d"/><circle cx="326" cy="355.8" r="1.5" fill="#0d0d0d"/><circle cx="326" cy="380.9" r="1.55" fill="#f5e3a0" stroke="#a07a20" stroke-width="0.85"/><line x1="337.5" y1="299" x2="337.5" y2="374" stroke="#4a4a4a" stroke-width="0.8" stroke-linecap="butt"/><line x1="335.45" y1="299.5" x2="338.65" y2="299.5" stroke="#4a4a4a" stroke-width="0.8" stroke-linecap="butt"/><circle cx="337.2" cy="287.7" r="1.5" fill="#0d0d0d"/><circle cx="337.2" cy="315.6" r="1.5" fill="#0d0d0d"/><circle cx="337.2" cy="345.4" r="1.5" fill="#0d0d0d"/><circle cx="337.05" cy="368.8" r="1.55" fill="#f5e3a0" stroke="#a07a20" stroke-width="0.85"/><line x1="348.5" y1="345.56" x2="348.5" y2="351.84" stroke="#4a4a4a" stroke-width="0.8" stroke-linecap="butt"/><line x1="346.5" y1="345.5" x2="349.7" y2="345.5" stroke="#4a4a4a" stroke-width="0.8" stroke-linecap="butt"/><circle cx="348.2" cy="340.9" r="1.5" fill="#0d0d0d"/><circle cx="346.5" cy="350.6" r="1.5" fill="#0d0d0d"/><circle cx="349.5" cy="350" r="1.5" fill="#0d0d0d"/><circle cx="348.1" cy="380.9" r="1.55" fill="#f5e3a0" stroke="#a07a20" stroke-width="0.85"/><line x1="359.5" y1="353.82" x2="359.5" y2="357.18" stroke="#4a4a4a" stroke-width="0.8" stroke-linecap="butt"/><line x1="357.55" y1="353.5" x2="360.75" y2="353.5" stroke="#4a4a4a" stroke-width="0.8" stroke-linecap="butt"/><circle cx="357.8" cy="353.2" r="1.5" fill="#0d0d0d"/><circle cx="360.5" cy="355.6" r="1.5" fill="#0d0d0d"/><circle cx="359" cy="359" r="1.5" fill="#0d0d0d"/><circle cx="359.15" cy="380.9" r="1.55" fill="#f5e3a0" stroke="#a07a20" stroke-width="0.85"/><line x1="370.5" y1="349.15" x2="370.5" y2="352.05" stroke="#4a4a4a" stroke-width="0.8" stroke-linecap="butt"/><line x1="368.6" y1="349.5" x2="371.8" y2="349.5" stroke="#4a4a4a" stroke-width="0.8" stroke-linecap="butt"/><circle cx="369" cy="350" r="1.5" fill="#0d0d0d"/><circle cx="372" cy="352" r="1.5" fill="#0d0d0d"/><circle cx="370.5" cy="355" r="1.5" fill="#0d0d0d"/><circle cx="370.2" cy="381" r="1.55" fill="#f5e3a0" stroke="#a07a20" stroke-width="0.85"/><line x1="381.5" y1="349.86" x2="381.5" y2="353.34" stroke="#4a4a4a" stroke-width="0.8" stroke-linecap="butt"/><line x1="379.65" y1="349.5" x2="382.85" y2="349.5" stroke="#4a4a4a" stroke-width="0.8" stroke-linecap="butt"/><circle cx="380" cy="349" r="1.5" fill="#0d0d0d"/><circle cx="383.5" cy="351.5" r="1.5" fill="#0d0d0d"/><circle cx="381.5" cy="355" r="1.5" fill="#0d0d0d"/><circle cx="381.25" cy="381" r="1.55" fill="#f5e3a0" stroke="#a07a20" stroke-width="0.85"/><line x1="392.5" y1="355.3" x2="392.5" y2="362.3" stroke="#4a4a4a" stroke-width="0.8" stroke-linecap="butt"/><line x1="390.7" y1="355.5" x2="393.9" y2="355.5" stroke="#4a4a4a" stroke-width="0.8" stroke-linecap="butt"/><circle cx="391.5" cy="354.7" r="1.5" fill="#0d0d0d"/><circle cx="394.5" cy="356" r="1.5" fill="#0d0d0d"/><circle cx="393" cy="365.8" r="1.5" fill="#0d0d0d"/><circle cx="392.3" cy="381" r="1.55" fill="#f5e3a0" stroke="#a07a20" stroke-width="0.85"/><line x1="403.5" y1="350.21" x2="403.5" y2="350.79" stroke="#4a4a4a" stroke-width="0.8" stroke-linecap="butt"/><line x1="401.75" y1="350.5" x2="404.95" y2="350.5" stroke="#4a4a4a" stroke-width="0.8" stroke-linecap="butt"/><circle cx="401.5" cy="350" r="1.5" fill="#0d0d0d"/><circle cx="404.5" cy="350.5" r="1.5" fill="#0d0d0d"/><circle cx="403" cy="351" r="1.5" fill="#0d0d0d"/><circle cx="403.35" cy="381" r="1.55" fill="#f5e3a0" stroke="#a07a20" stroke-width="0.85"/><line x1="414.5" y1="345.84" x2="414.5" y2="351.96" stroke="#4a4a4a" stroke-width="0.8" stroke-linecap="butt"/><line x1="412.8" y1="345.5" x2="416" y2="345.5" stroke="#4a4a4a" stroke-width="0.8" stroke-linecap="butt"/><circle cx="414.6" cy="343.6" r="1.5" fill="#0d0d0d"/><circle cx="414.6" cy="348.9" r="1.5" fill="#0d0d0d"/><circle cx="414.6" cy="354.2" r="1.5" fill="#0d0d0d"/><circle cx="414.4" cy="380.5" r="1.55" fill="#f5e3a0" stroke="#a07a20" stroke-width="0.85"/><line x1="425.5" y1="349.72" x2="425.5" y2="352.68" stroke="#4a4a4a" stroke-width="0.8" stroke-linecap="butt"/><line x1="423.85" y1="349.5" x2="427.05" y2="349.5" stroke="#4a4a4a" stroke-width="0.8" stroke-linecap="butt"/><circle cx="423.5" cy="350" r="1.5" fill="#0d0d0d"/><circle cx="427" cy="351.5" r="1.5" fill="#0d0d0d"/><circle cx="425.5" cy="355" r="1.5" fill="#0d0d0d"/><circle cx="425.45" cy="381" r="1.55" fill="#f5e3a0" stroke="#a07a20" stroke-width="0.85"/><line x1="436.5" y1="342.23" x2="436.5" y2="350.97" stroke="#4a4a4a" stroke-width="0.8" stroke-linecap="butt"/><line x1="434.9" y1="342.5" x2="438.1" y2="342.5" stroke="#4a4a4a" stroke-width="0.8" stroke-linecap="butt"/><circle cx="436.6" cy="337.8" r="1.5" fill="#0d0d0d"/><circle cx="435" cy="350.8" r="1.5" fill="#0d0d0d"/><circle cx="438.5" cy="351" r="1.5" fill="#0d0d0d"/><circle cx="436.5" cy="381" r="1.55" fill="#f5e3a0" stroke="#a07a20" stroke-width="0.85"/><line x1="447.5" y1="356.21" x2="447.5" y2="356.79" stroke="#4a4a4a" stroke-width="0.8" stroke-linecap="butt"/><line x1="445.95" y1="356.5" x2="449.15" y2="356.5" stroke="#4a4a4a" stroke-width="0.8" stroke-linecap="butt"/><circle cx="446" cy="356" r="1.5" fill="#0d0d0d"/><circle cx="449" cy="356.5" r="1.5" fill="#0d0d0d"/><circle cx="447.4" cy="357" r="1.5" fill="#0d0d0d"/><circle cx="447.55" cy="381" r="1.55" fill="#f5e3a0" stroke="#a07a20" stroke-width="0.85"/><line x1="458.5" y1="355.25" x2="458.5" y2="361.15" stroke="#4a4a4a" stroke-width="0.8" stroke-linecap="butt"/><line x1="457" y1="355.5" x2="460.2" y2="355.5" stroke="#4a4a4a" stroke-width="0.8" stroke-linecap="butt"/><circle cx="458.5" cy="352.4" r="1.5" fill="#0d0d0d"/><circle cx="458.5" cy="357" r="1.5" fill="#0d0d0d"/><circle cx="458.5" cy="362.6" r="1.5" fill="#0d0d0d"/><circle cx="458.6" cy="381" r="1.55" fill="#f5e3a0" stroke="#a07a20" stroke-width="0.85"/><line x1="469.5" y1="360.92" x2="469.5" y2="369.08" stroke="#4a4a4a" stroke-width="0.8" stroke-linecap="butt"/><line x1="468.05" y1="360.5" x2="471.25" y2="360.5" stroke="#4a4a4a" stroke-width="0.8" stroke-linecap="butt"/><circle cx="469.6" cy="355.2" r="1.5" fill="#0d0d0d"/><circle cx="467.5" cy="368.5" r="1.5" fill="#0d0d0d"/><circle cx="471" cy="366" r="1.5" fill="#0d0d0d"/><circle cx="469.65" cy="381.5" r="1.55" fill="#f5e3a0" stroke="#a07a20" stroke-width="0.85"/><line x1="326.5" y1="383.3" x2="326.5" y2="385.5" stroke="#1a1a1a" stroke-width="0.9" stroke-linecap="butt"/><text transform="translate(329,391.5) rotate(-45)" font-size="8" text-anchor="end" fill="#333333" textLength="29.4" lengthAdjust="spacingAndGlyphs" stroke="#333" stroke-width="0.2">No LNP</text><line x1="337.5" y1="383.3" x2="337.5" y2="385.5" stroke="#1a1a1a" stroke-width="0.9" stroke-linecap="butt"/><text transform="translate(340.05,391.5) rotate(-45)" font-size="8" text-anchor="end" fill="#333333" textLength="13.65" lengthAdjust="spacingAndGlyphs" stroke="#333" stroke-width="0.2">Cal</text><line x1="348.5" y1="383.3" x2="348.5" y2="385.5" stroke="#1a1a1a" stroke-width="0.9" stroke-linecap="butt"/><text transform="translate(351.1,391.5) rotate(-45)" font-size="8" text-anchor="end" fill="#333333" textLength="19.95" lengthAdjust="spacingAndGlyphs" stroke="#333" stroke-width="0.2">DSPC</text><line x1="359.5" y1="383.3" x2="359.5" y2="385.5" stroke="#1a1a1a" stroke-width="0.9" stroke-linecap="butt"/><text transform="translate(362.15,391.5) rotate(-45)" font-size="8" text-anchor="end" fill="#333333" textLength="21" lengthAdjust="spacingAndGlyphs" stroke="#333" stroke-width="0.2">DOPC</text><line x1="370.5" y1="383.3" x2="370.5" y2="385.5" stroke="#1a1a1a" stroke-width="0.9" stroke-linecap="butt"/><text transform="translate(373.2,391.5) rotate(-45)" font-size="8" text-anchor="end" fill="#333333" textLength="21" lengthAdjust="spacingAndGlyphs" stroke="#333" stroke-width="0.2">POPC</text><line x1="381.5" y1="383.3" x2="381.5" y2="385.5" stroke="#1a1a1a" stroke-width="0.9" stroke-linecap="butt"/><text transform="translate(384.25,391.5) rotate(-45)" font-size="8" text-anchor="end" fill="#333333" textLength="19.95" lengthAdjust="spacingAndGlyphs" stroke="#333" stroke-width="0.2">DSPE</text><line x1="392.5" y1="383.3" x2="392.5" y2="385.5" stroke="#1a1a1a" stroke-width="0.9" stroke-linecap="butt"/><text transform="translate(395.3,391.5) rotate(-45)" font-size="8" text-anchor="end" fill="#333333" textLength="21" lengthAdjust="spacingAndGlyphs" stroke="#333" stroke-width="0.2">DOPE</text><line x1="403.5" y1="383.3" x2="403.5" y2="385.5" stroke="#1a1a1a" stroke-width="0.9" stroke-linecap="butt"/><text transform="translate(406.35,391.5) rotate(-45)" font-size="8" text-anchor="end" fill="#333333" textLength="21" lengthAdjust="spacingAndGlyphs" stroke="#333" stroke-width="0.2">POPE</text><line x1="414.5" y1="383.3" x2="414.5" y2="385.5" stroke="#1a1a1a" stroke-width="0.9" stroke-linecap="butt"/><text transform="translate(417.4,391.5) rotate(-45)" font-size="8" text-anchor="end" fill="#333333" textLength="21" lengthAdjust="spacingAndGlyphs" stroke="#333" stroke-width="0.2">DSPG</text><line x1="425.5" y1="383.3" x2="425.5" y2="385.5" stroke="#1a1a1a" stroke-width="0.9" stroke-linecap="butt"/><text transform="translate(428.45,391.5) rotate(-45)" font-size="8" text-anchor="end" fill="#333333" textLength="22.05" lengthAdjust="spacingAndGlyphs" stroke="#333" stroke-width="0.2">DOPG</text><line x1="436.5" y1="383.3" x2="436.5" y2="385.5" stroke="#1a1a1a" stroke-width="0.9" stroke-linecap="butt"/><text transform="translate(439.5,391.5) rotate(-45)" font-size="8" text-anchor="end" fill="#333333" textLength="22.05" lengthAdjust="spacingAndGlyphs" stroke="#333" stroke-width="0.2">POPG</text><line x1="447.5" y1="383.3" x2="447.5" y2="385.5" stroke="#1a1a1a" stroke-width="0.9" stroke-linecap="butt"/><text transform="translate(450.55,391.5) rotate(-45)" font-size="8" text-anchor="end" fill="#333333" textLength="19.95" lengthAdjust="spacingAndGlyphs" stroke="#333" stroke-width="0.2">DSPS</text><line x1="458.5" y1="383.3" x2="458.5" y2="385.5" stroke="#1a1a1a" stroke-width="0.9" stroke-linecap="butt"/><text transform="translate(461.6,391.5) rotate(-45)" font-size="8" text-anchor="end" fill="#333333" textLength="21" lengthAdjust="spacingAndGlyphs" stroke="#333" stroke-width="0.2">DOPS</text><line x1="469.5" y1="383.3" x2="469.5" y2="385.5" stroke="#1a1a1a" stroke-width="0.9" stroke-linecap="butt"/><text transform="translate(472.65,391.5) rotate(-45)" font-size="8" text-anchor="end" fill="#333333" textLength="21" lengthAdjust="spacingAndGlyphs" stroke="#333" stroke-width="0.2">POPS</text><line x1="332.7" y1="416.5" x2="363.5" y2="416.5" stroke="#555555" stroke-width="0.9" stroke-linecap="butt"/><text x="348.1" y="426.2" font-size="9.2" text-anchor="middle" fill="#333333" textLength="10" lengthAdjust="spacingAndGlyphs" stroke="#333333" stroke-width="0.3">PC</text><line x1="367.3" y1="416.5" x2="396" y2="416.5" stroke="#555555" stroke-width="0.9" stroke-linecap="butt"/><text x="381.65" y="426.2" font-size="9.2" text-anchor="middle" fill="#333333" textLength="9.6" lengthAdjust="spacingAndGlyphs" stroke="#333333" stroke-width="0.3">PE</text><line x1="400.8" y1="416.5" x2="430.8" y2="416.5" stroke="#555555" stroke-width="0.9" stroke-linecap="butt"/><text x="415.8" y="426.2" font-size="9.2" text-anchor="middle" fill="#333333" textLength="10.4" lengthAdjust="spacingAndGlyphs" stroke="#333333" stroke-width="0.3">PG</text><line x1="435.4" y1="416.5" x2="464.6" y2="416.5" stroke="#555555" stroke-width="0.9" stroke-linecap="butt"/><text x="450" y="426.2" font-size="9.2" text-anchor="middle" fill="#333333" textLength="9.4" lengthAdjust="spacingAndGlyphs" stroke="#333333" stroke-width="0.3">PS</text><text x="397.5" y="438.7" font-size="9.8" text-anchor="middle" fill="#333333" textLength="78" lengthAdjust="spacingAndGlyphs" stroke="#333333" stroke-width="0.3">Structural phospholipid</text><polyline points="326.5,281.5 326.5,277.5 337.5,277.5 337.5,281.5" fill="none" stroke="#555555" stroke-width="0.9"/><line x1="328.63" y1="270.55" x2="328.63" y2="273.45" stroke="#222" stroke-width="0.85"/><line x1="327.38" y1="271.27" x2="329.89" y2="272.73" stroke="#222" stroke-width="0.85"/><line x1="329.89" y1="271.27" x2="327.38" y2="272.73" stroke="#222" stroke-width="0.85"/><line x1="331.9" y1="270.55" x2="331.9" y2="273.45" stroke="#222" stroke-width="0.85"/><line x1="330.64" y1="271.27" x2="333.16" y2="272.73" stroke="#222" stroke-width="0.85"/><line x1="333.16" y1="271.27" x2="330.64" y2="272.73" stroke="#222" stroke-width="0.85"/><line x1="335.17" y1="270.55" x2="335.17" y2="273.45" stroke="#222" stroke-width="0.85"/><line x1="333.91" y1="271.27" x2="336.42" y2="272.73" stroke="#222" stroke-width="0.85"/><line x1="336.42" y1="271.27" x2="333.91" y2="272.73" stroke="#222" stroke-width="0.85"/><polyline points="323.5,330.5 323.5,266.5 411.5,266.5 411.5,332.5" fill="none" stroke="#9c9c9c" stroke-width="1.1"/><line x1="349.5" y1="332.5" x2="465.5" y2="332.5" stroke="#9c9c9c" stroke-width="1.1" stroke-linecap="butt"/><text x="368" y="263.5" font-size="7.4" text-anchor="middle" fill="#444" textLength="8.6" lengthAdjust="spacingAndGlyphs" stroke="#444" stroke-width="0.1">ns</text><text transform="translate(274.3,330) rotate(-90)" font-size="9" text-anchor="middle" fill="#333333" textLength="68.4" lengthAdjust="spacingAndGlyphs" stroke="#333333" stroke-width="0.3">Platelet PS exposure:</text><text transform="translate(285.4,330) rotate(-90)" font-size="9" text-anchor="middle" fill="#cf2a4a" textLength="47.9" lengthAdjust="spacingAndGlyphs" stroke="#cf2a4a" stroke-width="0.3">Annexin V MFI</text><text transform="translate(500.8,331.5) rotate(90)" font-size="9" text-anchor="middle" fill="#f2ae50" stroke="#f2ae50" stroke-width="0.3" textLength="86" lengthAdjust="spacingAndGlyphs">Annexin V<tspan dy="-2.5" font-size="6">+</tspan><tspan dy="2.5"> platelets (%)</tspan></text><line x1="57.5" y1="497.8" x2="57.5" y2="527.8" stroke="#1a1a1a" stroke-width="1.15" stroke-linecap="butt"/><line x1="57.5" y1="538.3" x2="57.5" y2="602.6" stroke="#1a1a1a" stroke-width="1.15" stroke-linecap="butt"/><line x1="54.8" y1="602.5" x2="57.8" y2="602.5" stroke="#1a1a1a" stroke-width="1.0" stroke-linecap="butt"/><line x1="55.6" y1="593.5" x2="57.8" y2="593.5" stroke="#1a1a1a" stroke-width="1.0" stroke-linecap="butt"/><line x1="54.8" y1="584.5" x2="57.8" y2="584.5" stroke="#1a1a1a" stroke-width="1.0" stroke-linecap="butt"/><line x1="55.6" y1="575.5" x2="57.8" y2="575.5" stroke="#1a1a1a" stroke-width="1.0" stroke-linecap="butt"/><line x1="54.8" y1="566.5" x2="57.8" y2="566.5" stroke="#1a1a1a" stroke-width="1.0" stroke-linecap="butt"/><line x1="55.6" y1="557.5" x2="57.8" y2="557.5" stroke="#1a1a1a" stroke-width="1.0" stroke-linecap="butt"/><line x1="54.8" y1="548.5" x2="57.8" y2="548.5" stroke="#1a1a1a" stroke-width="1.0" stroke-linecap="butt"/><line x1="55.6" y1="539.5" x2="57.8" y2="539.5" stroke="#1a1a1a" stroke-width="1.0" stroke-linecap="butt"/><line x1="54.8" y1="500.5" x2="57.8" y2="500.5" stroke="#1a1a1a" stroke-width="1.0" stroke-linecap="butt"/><line x1="55.6" y1="507.5" x2="57.8" y2="507.5" stroke="#1a1a1a" stroke-width="1.0" stroke-linecap="butt"/><line x1="54.8" y1="514.5" x2="57.8" y2="514.5" stroke="#1a1a1a" stroke-width="1.0" stroke-linecap="butt"/><line x1="55.6" y1="521.5" x2="57.8" y2="521.5" stroke="#1a1a1a" stroke-width="1.0" stroke-linecap="butt"/><line x1="54.8" y1="527.5" x2="57.8" y2="527.5" stroke="#1a1a1a" stroke-width="1.0" stroke-linecap="butt"/><text x="52.6" y="605.55" font-size="8.2" text-anchor="end" fill="#333333" stroke="#333" stroke-width="0.12">0</text><text x="52.6" y="587.45" font-size="8.2" text-anchor="end" fill="#333333" textLength="8.4" lengthAdjust="spacingAndGlyphs" stroke="#333" stroke-width="0.12">50</text><text x="52.6" y="569.35" font-size="8.2" text-anchor="end" fill="#333333" textLength="12.6" lengthAdjust="spacingAndGlyphs" stroke="#333" stroke-width="0.12">100</text><text x="52.6" y="551.25" font-size="8.2" text-anchor="end" fill="#333333" textLength="12.6" lengthAdjust="spacingAndGlyphs" stroke="#333" stroke-width="0.12">150</text><text x="52.6" y="503" font-size="7.79" text-anchor="end" fill="#333333">1×10<tspan dy="-3" font-size="5.45">5</tspan></text><text x="52.6" y="517.5" font-size="7.79" text-anchor="end" fill="#333333">8×10<tspan dy="-3" font-size="5.45">4</tspan></text><text x="52.6" y="530.8" font-size="7.79" text-anchor="end" fill="#333333">6×10<tspan dy="-3" font-size="5.45">4</tspan></text><line x1="55.4" y1="526.6" x2="60.2" y2="531.4" stroke="#1a1a1a" stroke-width="1.25" stroke-linecap="butt"/><line x1="55.4" y1="534.9" x2="60.2" y2="539.7" stroke="#1a1a1a" stroke-width="1.25" stroke-linecap="butt"/><line x1="212.5" y1="500.5" x2="212.5" y2="602.6" stroke="#1a1a1a" stroke-width="1.15" stroke-linecap="butt"/><line x1="212" y1="602.5" x2="215" y2="602.5" stroke="#1a1a1a" stroke-width="1.0" stroke-linecap="butt"/><line x1="212" y1="592.5" x2="214.2" y2="592.5" stroke="#1a1a1a" stroke-width="1.0" stroke-linecap="butt"/><line x1="212" y1="582.5" x2="215" y2="582.5" stroke="#1a1a1a" stroke-width="1.0" stroke-linecap="butt"/><line x1="212" y1="571.5" x2="214.2" y2="571.5" stroke="#1a1a1a" stroke-width="1.0" stroke-linecap="butt"/><line x1="212" y1="561.5" x2="215" y2="561.5" stroke="#1a1a1a" stroke-width="1.0" stroke-linecap="butt"/><line x1="212" y1="551.5" x2="214.2" y2="551.5" stroke="#1a1a1a" stroke-width="1.0" stroke-linecap="butt"/><line x1="212" y1="541.5" x2="215" y2="541.5" stroke="#1a1a1a" stroke-width="1.0" stroke-linecap="butt"/><line x1="212" y1="531.5" x2="214.2" y2="531.5" stroke="#1a1a1a" stroke-width="1.0" stroke-linecap="butt"/><line x1="212" y1="520.5" x2="215" y2="520.5" stroke="#1a1a1a" stroke-width="1.0" stroke-linecap="butt"/><line x1="212" y1="510.5" x2="214.2" y2="510.5" stroke="#1a1a1a" stroke-width="1.0" stroke-linecap="butt"/><line x1="212" y1="500.5" x2="215" y2="500.5" stroke="#1a1a1a" stroke-width="1.0" stroke-linecap="butt"/><text x="218.5" y="605.55" font-size="8.2" text-anchor="start" fill="#333333" stroke="#333" stroke-width="0.12">0</text><text x="218.5" y="585.13" font-size="8.2" text-anchor="start" fill="#333333" textLength="8.6" lengthAdjust="spacingAndGlyphs" stroke="#333" stroke-width="0.12">20</text><text x="218.5" y="564.71" font-size="8.2" text-anchor="start" fill="#333333" textLength="8.6" lengthAdjust="spacingAndGlyphs" stroke="#333" stroke-width="0.12">40</text><text x="218.5" y="544.29" font-size="8.2" text-anchor="start" fill="#333333" textLength="8.6" lengthAdjust="spacingAndGlyphs" stroke="#333" stroke-width="0.12">60</text><text x="218.5" y="523.87" font-size="8.2" text-anchor="start" fill="#333333" textLength="8.6" lengthAdjust="spacingAndGlyphs" stroke="#333" stroke-width="0.12">80</text><text x="218.5" y="503.45" font-size="8.2" text-anchor="start" fill="#333333" textLength="12.8" lengthAdjust="spacingAndGlyphs" stroke="#333" stroke-width="0.12">100</text><line x1="57.8" y1="602.5" x2="212" y2="602.5" stroke="#1a1a1a" stroke-width="1.0" stroke-linecap="butt"/><rect x="64.2" y="548.8" width="7.6" height="53.8" fill="#c5c5cd"/><rect x="81.2" y="538.3" width="7.6" height="64.3" fill="#7d79c6"/><rect x="98.2" y="555.2" width="7.6" height="47.4" fill="#c7cbe3"/><rect x="109.3" y="555.6" width="7.6" height="47" fill="#c7cbe3"/><rect x="120.4" y="554.6" width="7.6" height="48" fill="#c7cbe3"/><rect x="137.1" y="555.9" width="7.6" height="46.7" fill="#8f9bc0"/><rect x="148.4" y="555.9" width="7.6" height="46.7" fill="#8f9bc0"/><rect x="159.7" y="553.1" width="7.6" height="49.5" fill="#8f9bc0"/><rect x="176.5" y="555" width="7.6" height="47.6" fill="#1c4b89"/><rect x="187.7" y="554.3" width="7.6" height="48.3" fill="#1c4b89"/><rect x="198.9" y="548.5" width="7.6" height="54.1" fill="#1c4b89"/><line x1="68.5" y1="545.27" x2="68.5" y2="552.33" stroke="#4a4a4a" stroke-width="0.8" stroke-linecap="butt"/><line x1="66.4" y1="545.5" x2="69.6" y2="545.5" stroke="#4a4a4a" stroke-width="0.8" stroke-linecap="butt"/><circle cx="68" cy="540.2" r="1.5" fill="#0d0d0d"/><circle cx="65.5" cy="550.8" r="1.5" fill="#0d0d0d"/><circle cx="70" cy="550.8" r="1.5" fill="#0d0d0d"/><circle cx="68" cy="597.9" r="1.6" fill="#efdc84" stroke="#7a6618" stroke-width="0.9"/><line x1="102.5" y1="550.61" x2="102.5" y2="559.79" stroke="#4a4a4a" stroke-width="0.8" stroke-linecap="butt"/><line x1="100.4" y1="550.5" x2="103.6" y2="550.5" stroke="#4a4a4a" stroke-width="0.8" stroke-linecap="butt"/><circle cx="102" cy="545.4" r="1.5" fill="#0d0d0d"/><circle cx="101" cy="557.5" r="1.5" fill="#0d0d0d"/><circle cx="102.5" cy="560.4" r="1.5" fill="#0d0d0d"/><circle cx="102" cy="598.8" r="1.6" fill="#efdc84" stroke="#7a6618" stroke-width="0.9"/><line x1="113.5" y1="551.08" x2="113.5" y2="560.12" stroke="#4a4a4a" stroke-width="0.8" stroke-linecap="butt"/><line x1="111.5" y1="551.5" x2="114.7" y2="551.5" stroke="#4a4a4a" stroke-width="0.8" stroke-linecap="butt"/><circle cx="114.5" cy="545.4" r="1.5" fill="#0d0d0d"/><circle cx="111.5" cy="559.4" r="1.5" fill="#0d0d0d"/><circle cx="116" cy="558.5" r="1.5" fill="#0d0d0d"/><circle cx="113.1" cy="598.8" r="1.6" fill="#efdc84" stroke="#7a6618" stroke-width="0.9"/><line x1="124.5" y1="550.98" x2="124.5" y2="558.22" stroke="#4a4a4a" stroke-width="0.8" stroke-linecap="butt"/><line x1="122.6" y1="550.5" x2="125.8" y2="550.5" stroke="#4a4a4a" stroke-width="0.8" stroke-linecap="butt"/><circle cx="124.2" cy="545.4" r="1.5" fill="#0d0d0d"/><circle cx="122" cy="556.5" r="1.5" fill="#0d0d0d"/><circle cx="126.5" cy="556" r="1.5" fill="#0d0d0d"/><circle cx="124.2" cy="598.8" r="1.6" fill="#efdc84" stroke="#7a6618" stroke-width="0.9"/><line x1="140.5" y1="551.34" x2="140.5" y2="560.46" stroke="#4a4a4a" stroke-width="0.8" stroke-linecap="butt"/><line x1="139.3" y1="551.5" x2="142.5" y2="551.5" stroke="#4a4a4a" stroke-width="0.8" stroke-linecap="butt"/><circle cx="140.9" cy="546.2" r="1.5" fill="#0d0d0d"/><circle cx="138.5" cy="561.2" r="1.5" fill="#0d0d0d"/><circle cx="143" cy="558" r="1.5" fill="#0d0d0d"/><circle cx="140.9" cy="599.3" r="1.6" fill="#efdc84" stroke="#7a6618" stroke-width="0.9"/><line x1="152.5" y1="553.07" x2="152.5" y2="558.73" stroke="#4a4a4a" stroke-width="0.8" stroke-linecap="butt"/><line x1="150.6" y1="553.5" x2="153.8" y2="553.5" stroke="#4a4a4a" stroke-width="0.8" stroke-linecap="butt"/><circle cx="152.4" cy="549" r="1.5" fill="#0d0d0d"/><circle cx="150" cy="557.5" r="1.5" fill="#0d0d0d"/><circle cx="154.5" cy="557.5" r="1.5" fill="#0d0d0d"/><circle cx="152.2" cy="599.3" r="1.6" fill="#efdc84" stroke="#7a6618" stroke-width="0.9"/><line x1="163.5" y1="548.22" x2="163.5" y2="557.98" stroke="#4a4a4a" stroke-width="0.8" stroke-linecap="butt"/><line x1="161.9" y1="548.5" x2="165.1" y2="548.5" stroke="#4a4a4a" stroke-width="0.8" stroke-linecap="butt"/><circle cx="163.5" cy="544.4" r="1.5" fill="#0d0d0d"/><circle cx="163.5" cy="554.3" r="1.5" fill="#0d0d0d"/><circle cx="163.5" cy="561.2" r="1.5" fill="#0d0d0d"/><circle cx="163.5" cy="599.3" r="1.6" fill="#efdc84" stroke="#7a6618" stroke-width="0.9"/><line x1="180.5" y1="550.09" x2="180.5" y2="559.91" stroke="#4a4a4a" stroke-width="0.8" stroke-linecap="butt"/><line x1="178.7" y1="550.5" x2="181.9" y2="550.5" stroke="#4a4a4a" stroke-width="0.8" stroke-linecap="butt"/><circle cx="180.3" cy="545" r="1.5" fill="#0d0d0d"/><circle cx="178" cy="561" r="1.5" fill="#0d0d0d"/><circle cx="182.5" cy="558" r="1.5" fill="#0d0d0d"/><circle cx="180.3" cy="600" r="1.6" fill="#efdc84" stroke="#7a6618" stroke-width="0.9"/><line x1="191.5" y1="549.9" x2="191.5" y2="558.7" stroke="#4a4a4a" stroke-width="0.8" stroke-linecap="butt"/><line x1="189.9" y1="549.5" x2="193.1" y2="549.5" stroke="#4a4a4a" stroke-width="0.8" stroke-linecap="butt"/><circle cx="191.4" cy="544.4" r="1.5" fill="#0d0d0d"/><circle cx="189.5" cy="558.5" r="1.5" fill="#0d0d0d"/><circle cx="193.5" cy="556.5" r="1.5" fill="#0d0d0d"/><circle cx="191.5" cy="600" r="1.6" fill="#efdc84" stroke="#7a6618" stroke-width="0.9"/><line x1="202.5" y1="544.1" x2="202.5" y2="552.9" stroke="#4a4a4a" stroke-width="0.8" stroke-linecap="butt"/><line x1="201.1" y1="544.5" x2="204.3" y2="544.5" stroke="#4a4a4a" stroke-width="0.8" stroke-linecap="butt"/><circle cx="202.7" cy="538.8" r="1.5" fill="#0d0d0d"/><circle cx="201" cy="552" r="1.5" fill="#0d0d0d"/><circle cx="204.5" cy="552" r="1.5" fill="#0d0d0d"/><circle cx="202.7" cy="598.2" r="1.6" fill="#efdc84" stroke="#7a6618" stroke-width="0.9"/><rect x="81.2" y="519.2" width="7.6" height="8.7" fill="#7a76c0"/><line x1="85.5" y1="512.5" x2="85.5" y2="522.2" stroke="#4a4a4a" stroke-width="0.8" stroke-linecap="butt"/><line x1="83.4" y1="512.5" x2="86.6" y2="512.5" stroke="#4a4a4a" stroke-width="0.8" stroke-linecap="butt"/><circle cx="82.4" cy="525.4" r="1.5" fill="#0d0d0d"/><circle cx="85.9" cy="523" r="1.5" fill="#0d0d0d"/><circle cx="85" cy="524" r="1.5" fill="#0d0d0d"/><circle cx="85" cy="509" r="1.5" fill="#0d0d0d"/><circle cx="85" cy="506.7" r="1.6" fill="#efdc84" stroke="#7a6618" stroke-width="0.9"/><line x1="68.5" y1="602.6" x2="68.5" y2="604.8" stroke="#1a1a1a" stroke-width="0.9" stroke-linecap="butt"/><text transform="translate(71,610.8) rotate(-45)" font-size="8" text-anchor="end" fill="#333333" textLength="29.4" lengthAdjust="spacingAndGlyphs" stroke="#333" stroke-width="0.2">No LNP</text><line x1="85.5" y1="602.6" x2="85.5" y2="604.8" stroke="#1a1a1a" stroke-width="0.9" stroke-linecap="butt"/><text transform="translate(88,610.8) rotate(-45)" font-size="8" text-anchor="end" fill="#333333" textLength="30.45" lengthAdjust="spacingAndGlyphs" stroke="#333" stroke-width="0.2">CRP-XL</text><line x1="102.5" y1="602.6" x2="102.5" y2="604.8" stroke="#1a1a1a" stroke-width="0.9" stroke-linecap="butt"/><text transform="translate(105,610.8) rotate(-45)" font-size="8" text-anchor="end" fill="#333333" textLength="17.85" lengthAdjust="spacingAndGlyphs" stroke="#333" stroke-width="0.2">0.5%</text><line x1="113.5" y1="602.6" x2="113.5" y2="604.8" stroke="#1a1a1a" stroke-width="0.9" stroke-linecap="butt"/><text transform="translate(116.1,610.8) rotate(-45)" font-size="8" text-anchor="end" fill="#333333" textLength="17.85" lengthAdjust="spacingAndGlyphs" stroke="#333" stroke-width="0.2">1.5%</text><line x1="124.5" y1="602.6" x2="124.5" y2="604.8" stroke="#1a1a1a" stroke-width="0.9" stroke-linecap="butt"/><text transform="translate(127.2,610.8) rotate(-45)" font-size="8" text-anchor="end" fill="#333333" textLength="17.85" lengthAdjust="spacingAndGlyphs" stroke="#333" stroke-width="0.2">2.5%</text><line x1="140.5" y1="602.6" x2="140.5" y2="604.8" stroke="#1a1a1a" stroke-width="0.9" stroke-linecap="butt"/><text transform="translate(143.9,610.8) rotate(-45)" font-size="8" text-anchor="end" fill="#333333" textLength="17.85" lengthAdjust="spacingAndGlyphs" stroke="#333" stroke-width="0.2">0.5%</text><line x1="152.5" y1="602.6" x2="152.5" y2="604.8" stroke="#1a1a1a" stroke-width="0.9" stroke-linecap="butt"/><text transform="translate(155.2,610.8) rotate(-45)" font-size="8" text-anchor="end" fill="#333333" textLength="17.85" lengthAdjust="spacingAndGlyphs" stroke="#333" stroke-width="0.2">1.5%</text><line x1="163.5" y1="602.6" x2="163.5" y2="604.8" stroke="#1a1a1a" stroke-width="0.9" stroke-linecap="butt"/><text transform="translate(166.5,610.8) rotate(-45)" font-size="8" text-anchor="end" fill="#333333" textLength="17.85" lengthAdjust="spacingAndGlyphs" stroke="#333" stroke-width="0.2">2.5%</text><line x1="180.5" y1="602.6" x2="180.5" y2="604.8" stroke="#1a1a1a" stroke-width="0.9" stroke-linecap="butt"/><text transform="translate(183.3,610.8) rotate(-45)" font-size="8" text-anchor="end" fill="#333333" textLength="17.85" lengthAdjust="spacingAndGlyphs" stroke="#333" stroke-width="0.2">0.5%</text><line x1="191.5" y1="602.6" x2="191.5" y2="604.8" stroke="#1a1a1a" stroke-width="0.9" stroke-linecap="butt"/><text transform="translate(194.5,610.8) rotate(-45)" font-size="8" text-anchor="end" fill="#333333" textLength="17.85" lengthAdjust="spacingAndGlyphs" stroke="#333" stroke-width="0.2">1.5%</text><line x1="202.5" y1="602.6" x2="202.5" y2="604.8" stroke="#1a1a1a" stroke-width="0.9" stroke-linecap="butt"/><text transform="translate(205.7,610.8) rotate(-45)" font-size="8" text-anchor="end" fill="#333333" textLength="17.85" lengthAdjust="spacingAndGlyphs" stroke="#333" stroke-width="0.2">2.5%</text><line x1="88.6" y1="635.5" x2="121.8" y2="635.5" stroke="#555555" stroke-width="0.9" stroke-linecap="butt"/><text x="105.2" y="644.6" font-size="9.2" text-anchor="middle" fill="#333333" textLength="39.4" lengthAdjust="spacingAndGlyphs" stroke="#333333" stroke-width="0.3">DMG-PEG</text><line x1="129.9" y1="635.5" x2="162.2" y2="635.5" stroke="#555555" stroke-width="0.9" stroke-linecap="butt"/><text x="146.05" y="644.6" font-size="9.2" text-anchor="middle" fill="#333333" textLength="33.7" lengthAdjust="spacingAndGlyphs" stroke="#333333" stroke-width="0.3">ALC-0159</text><line x1="170.3" y1="635.5" x2="202.6" y2="635.5" stroke="#555555" stroke-width="0.9" stroke-linecap="butt"/><text x="186.45" y="644.6" font-size="9.2" text-anchor="middle" fill="#333333" textLength="35" lengthAdjust="spacingAndGlyphs" stroke="#333333" stroke-width="0.3">DSG-PEG</text><text x="134" y="656.6" font-size="9.8" text-anchor="middle" fill="#333333" textLength="53.9" lengthAdjust="spacingAndGlyphs" stroke="#333333" stroke-width="0.3">PEGylated lipids</text><polyline points="72.5,497.5 72.5,492.5 84.5,492.5 84.5,497.5" fill="none" stroke="#555555" stroke-width="0.9"/><line x1="73.66" y1="487.05" x2="73.66" y2="489.95" stroke="#222" stroke-width="0.85"/><line x1="72.41" y1="487.77" x2="74.92" y2="489.23" stroke="#222" stroke-width="0.85"/><line x1="74.92" y1="487.77" x2="72.41" y2="489.23" stroke="#222" stroke-width="0.85"/><line x1="77.09" y1="487.05" x2="77.09" y2="489.95" stroke="#222" stroke-width="0.85"/><line x1="75.83" y1="487.77" x2="78.34" y2="489.23" stroke="#222" stroke-width="0.85"/><line x1="78.34" y1="487.77" x2="75.83" y2="489.23" stroke="#222" stroke-width="0.85"/><line x1="80.51" y1="487.05" x2="80.51" y2="489.95" stroke="#222" stroke-width="0.85"/><line x1="79.26" y1="487.77" x2="81.77" y2="489.23" stroke="#222" stroke-width="0.85"/><line x1="81.77" y1="487.77" x2="79.26" y2="489.23" stroke="#222" stroke-width="0.85"/><line x1="83.94" y1="487.05" x2="83.94" y2="489.95" stroke="#222" stroke-width="0.85"/><line x1="82.68" y1="487.77" x2="85.19" y2="489.23" stroke="#222" stroke-width="0.85"/><line x1="85.19" y1="487.77" x2="82.68" y2="489.23" stroke="#222" stroke-width="0.85"/><polyline points="67.5,526.5 67.5,481.5 154.5,481.5 154.5,531.5" fill="none" stroke="#9c9c9c" stroke-width="1.1"/><line x1="92.9" y1="531.5" x2="206.2" y2="531.5" stroke="#9c9c9c" stroke-width="1.1" stroke-linecap="butt"/><text x="110" y="478.8" font-size="7.4" text-anchor="middle" fill="#444" textLength="8.6" lengthAdjust="spacingAndGlyphs" stroke="#444" stroke-width="0.1">ns</text><text transform="translate(14.8,550.5) rotate(-90)" font-size="9" text-anchor="middle" fill="#333333" textLength="61.4" lengthAdjust="spacingAndGlyphs" stroke="#333333" stroke-width="0.3">Platelet activation:</text><text transform="translate(25.6,550.5) rotate(-90)" font-size="9" text-anchor="middle" fill="#2f9a6e" textLength="37" lengthAdjust="spacingAndGlyphs" stroke="#2f9a6e" stroke-width="0.3">CD62P MFI</text><text transform="translate(238.5,551) rotate(90)" font-size="9" text-anchor="middle" fill="#f2ae50" stroke="#f2ae50" stroke-width="0.3" textLength="71" lengthAdjust="spacingAndGlyphs">CD62P<tspan dy="-2.5" font-size="6">+</tspan><tspan dy="2.5"> platelets (%)</tspan></text><line x1="317.5" y1="497.8" x2="317.5" y2="527.8" stroke="#1a1a1a" stroke-width="1.15" stroke-linecap="butt"/><line x1="317.5" y1="537.5" x2="317.5" y2="602.6" stroke="#1a1a1a" stroke-width="1.15" stroke-linecap="butt"/><line x1="314.8" y1="602.5" x2="317.8" y2="602.5" stroke="#1a1a1a" stroke-width="1.0" stroke-linecap="butt"/><line x1="315.6" y1="591.5" x2="317.8" y2="591.5" stroke="#1a1a1a" stroke-width="1.0" stroke-linecap="butt"/><line x1="314.8" y1="580.5" x2="317.8" y2="580.5" stroke="#1a1a1a" stroke-width="1.0" stroke-linecap="butt"/><line x1="315.6" y1="569.5" x2="317.8" y2="569.5" stroke="#1a1a1a" stroke-width="1.0" stroke-linecap="butt"/><line x1="314.8" y1="559.5" x2="317.8" y2="559.5" stroke="#1a1a1a" stroke-width="1.0" stroke-linecap="butt"/><line x1="315.6" y1="548.5" x2="317.8" y2="548.5" stroke="#1a1a1a" stroke-width="1.0" stroke-linecap="butt"/><line x1="314.8" y1="537.5" x2="317.8" y2="537.5" stroke="#1a1a1a" stroke-width="1.0" stroke-linecap="butt"/><line x1="314.8" y1="500.5" x2="317.8" y2="500.5" stroke="#1a1a1a" stroke-width="1.0" stroke-linecap="butt"/><line x1="315.6" y1="507.5" x2="317.8" y2="507.5" stroke="#1a1a1a" stroke-width="1.0" stroke-linecap="butt"/><line x1="314.8" y1="514.5" x2="317.8" y2="514.5" stroke="#1a1a1a" stroke-width="1.0" stroke-linecap="butt"/><line x1="315.6" y1="521.5" x2="317.8" y2="521.5" stroke="#1a1a1a" stroke-width="1.0" stroke-linecap="butt"/><line x1="314.8" y1="527.5" x2="317.8" y2="527.5" stroke="#1a1a1a" stroke-width="1.0" stroke-linecap="butt"/><text x="312.6" y="605.55" font-size="8.2" text-anchor="end" fill="#333333" stroke="#333" stroke-width="0.12">0</text><text x="312.6" y="583.75" font-size="8.2" text-anchor="end" fill="#333333" textLength="12.6" lengthAdjust="spacingAndGlyphs" stroke="#333" stroke-width="0.12">100</text><text x="312.6" y="561.95" font-size="8.2" text-anchor="end" fill="#333333" textLength="12.6" lengthAdjust="spacingAndGlyphs" stroke="#333" stroke-width="0.12">200</text><text x="312.6" y="540.15" font-size="8.2" text-anchor="end" fill="#333333" textLength="12.6" lengthAdjust="spacingAndGlyphs" stroke="#333" stroke-width="0.12">300</text><text x="312.6" y="503" font-size="7.79" text-anchor="end" fill="#333333">1×10<tspan dy="-3" font-size="5.45">5</tspan></text><text x="312.6" y="517.5" font-size="7.79" text-anchor="end" fill="#333333">8×10<tspan dy="-3" font-size="5.45">4</tspan></text><text x="312.6" y="530.8" font-size="7.79" text-anchor="end" fill="#333333">6×10<tspan dy="-3" font-size="5.45">4</tspan></text><line x1="315.4" y1="526.6" x2="320.2" y2="531.4" stroke="#1a1a1a" stroke-width="1.25" stroke-linecap="butt"/><line x1="315.4" y1="534.9" x2="320.2" y2="539.7" stroke="#1a1a1a" stroke-width="1.25" stroke-linecap="butt"/><line x1="472.5" y1="500.5" x2="472.5" y2="602.6" stroke="#1a1a1a" stroke-width="1.15" stroke-linecap="butt"/><line x1="472" y1="602.5" x2="475" y2="602.5" stroke="#1a1a1a" stroke-width="1.0" stroke-linecap="butt"/><line x1="472" y1="592.5" x2="474.2" y2="592.5" stroke="#1a1a1a" stroke-width="1.0" stroke-linecap="butt"/><line x1="472" y1="582.5" x2="475" y2="582.5" stroke="#1a1a1a" stroke-width="1.0" stroke-linecap="butt"/><line x1="472" y1="571.5" x2="474.2" y2="571.5" stroke="#1a1a1a" stroke-width="1.0" stroke-linecap="butt"/><line x1="472" y1="561.5" x2="475" y2="561.5" stroke="#1a1a1a" stroke-width="1.0" stroke-linecap="butt"/><line x1="472" y1="551.5" x2="474.2" y2="551.5" stroke="#1a1a1a" stroke-width="1.0" stroke-linecap="butt"/><line x1="472" y1="541.5" x2="475" y2="541.5" stroke="#1a1a1a" stroke-width="1.0" stroke-linecap="butt"/><line x1="472" y1="531.5" x2="474.2" y2="531.5" stroke="#1a1a1a" stroke-width="1.0" stroke-linecap="butt"/><line x1="472" y1="520.5" x2="475" y2="520.5" stroke="#1a1a1a" stroke-width="1.0" stroke-linecap="butt"/><line x1="472" y1="510.5" x2="474.2" y2="510.5" stroke="#1a1a1a" stroke-width="1.0" stroke-linecap="butt"/><line x1="472" y1="500.5" x2="475" y2="500.5" stroke="#1a1a1a" stroke-width="1.0" stroke-linecap="butt"/><text x="478.5" y="605.55" font-size="8.2" text-anchor="start" fill="#333333" stroke="#333" stroke-width="0.12">0</text><text x="478.5" y="585.13" font-size="8.2" text-anchor="start" fill="#333333" textLength="8.6" lengthAdjust="spacingAndGlyphs" stroke="#333" stroke-width="0.12">20</text><text x="478.5" y="564.71" font-size="8.2" text-anchor="start" fill="#333333" textLength="8.6" lengthAdjust="spacingAndGlyphs" stroke="#333" stroke-width="0.12">40</text><text x="478.5" y="544.29" font-size="8.2" text-anchor="start" fill="#333333" textLength="8.6" lengthAdjust="spacingAndGlyphs" stroke="#333" stroke-width="0.12">60</text><text x="478.5" y="523.87" font-size="8.2" text-anchor="start" fill="#333333" textLength="8.6" lengthAdjust="spacingAndGlyphs" stroke="#333" stroke-width="0.12">80</text><text x="478.5" y="503.45" font-size="8.2" text-anchor="start" fill="#333333" textLength="12.8" lengthAdjust="spacingAndGlyphs" stroke="#333" stroke-width="0.12">100</text><line x1="317.8" y1="602.5" x2="472" y2="602.5" stroke="#1a1a1a" stroke-width="1.0" stroke-linecap="butt"/><rect x="324.2" y="556.4" width="7.6" height="46.2" fill="#c5c5cd"/><rect x="341.2" y="537.5" width="7.6" height="65.1" fill="#7d79c6"/><rect x="358.2" y="560.9" width="7.6" height="41.7" fill="#c7cbe3"/><rect x="369.3" y="561.9" width="7.6" height="40.7" fill="#c7cbe3"/><rect x="380.4" y="561.9" width="7.6" height="40.7" fill="#c7cbe3"/><rect x="397.1" y="563.5" width="7.6" height="39.1" fill="#8f9bc0"/><rect x="408.4" y="562.4" width="7.6" height="40.2" fill="#8f9bc0"/><rect x="419.7" y="561.2" width="7.6" height="41.4" fill="#8f9bc0"/><rect x="436.5" y="562.4" width="7.6" height="40.2" fill="#1c4b89"/><rect x="447.7" y="555.9" width="7.6" height="46.7" fill="#1c4b89"/><rect x="458.9" y="556.6" width="7.6" height="46" fill="#1c4b89"/><line x1="328.5" y1="549.95" x2="328.5" y2="562.85" stroke="#4a4a4a" stroke-width="0.8" stroke-linecap="butt"/><line x1="326.4" y1="549.5" x2="329.6" y2="549.5" stroke="#4a4a4a" stroke-width="0.8" stroke-linecap="butt"/><circle cx="327.5" cy="543.4" r="1.5" fill="#0d0d0d"/><circle cx="328.5" cy="560.9" r="1.5" fill="#0d0d0d"/><circle cx="328.5" cy="564.2" r="1.5" fill="#0d0d0d"/><circle cx="328" cy="593.6" r="1.6" fill="#efdc84" stroke="#7a6618" stroke-width="0.9"/><line x1="362.5" y1="557.21" x2="362.5" y2="564.59" stroke="#4a4a4a" stroke-width="0.8" stroke-linecap="butt"/><line x1="360.4" y1="557.5" x2="363.6" y2="557.5" stroke="#4a4a4a" stroke-width="0.8" stroke-linecap="butt"/><circle cx="362" cy="555" r="1.5" fill="#0d0d0d"/><circle cx="362" cy="560" r="1.5" fill="#0d0d0d"/><circle cx="362" cy="567.7" r="1.5" fill="#0d0d0d"/><circle cx="362" cy="594" r="1.6" fill="#efdc84" stroke="#7a6618" stroke-width="0.9"/><line x1="373.5" y1="558.43" x2="373.5" y2="565.37" stroke="#4a4a4a" stroke-width="0.8" stroke-linecap="butt"/><line x1="371.5" y1="558.5" x2="374.7" y2="558.5" stroke="#4a4a4a" stroke-width="0.8" stroke-linecap="butt"/><circle cx="373.5" cy="554" r="1.5" fill="#0d0d0d"/><circle cx="371" cy="564.8" r="1.5" fill="#0d0d0d"/><circle cx="375.5" cy="564" r="1.5" fill="#0d0d0d"/><circle cx="373.1" cy="595" r="1.6" fill="#efdc84" stroke="#7a6618" stroke-width="0.9"/><line x1="384.5" y1="558.29" x2="384.5" y2="565.51" stroke="#4a4a4a" stroke-width="0.8" stroke-linecap="butt"/><line x1="382.6" y1="558.5" x2="385.8" y2="558.5" stroke="#4a4a4a" stroke-width="0.8" stroke-linecap="butt"/><circle cx="384.6" cy="553.7" r="1.5" fill="#0d0d0d"/><circle cx="382.5" cy="565" r="1.5" fill="#0d0d0d"/><circle cx="387" cy="564" r="1.5" fill="#0d0d0d"/><circle cx="384.2" cy="594" r="1.6" fill="#efdc84" stroke="#7a6618" stroke-width="0.9"/><line x1="400.5" y1="560.05" x2="400.5" y2="566.95" stroke="#4a4a4a" stroke-width="0.8" stroke-linecap="butt"/><line x1="399.3" y1="560.5" x2="402.5" y2="560.5" stroke="#4a4a4a" stroke-width="0.8" stroke-linecap="butt"/><circle cx="400.9" cy="555.9" r="1.5" fill="#0d0d0d"/><circle cx="399" cy="566.5" r="1.5" fill="#0d0d0d"/><circle cx="403" cy="566" r="1.5" fill="#0d0d0d"/><circle cx="400.9" cy="595.4" r="1.6" fill="#efdc84" stroke="#7a6618" stroke-width="0.9"/><line x1="412.5" y1="559" x2="412.5" y2="565.8" stroke="#4a4a4a" stroke-width="0.8" stroke-linecap="butt"/><line x1="410.6" y1="558.5" x2="413.8" y2="558.5" stroke="#4a4a4a" stroke-width="0.8" stroke-linecap="butt"/><circle cx="412.4" cy="555.9" r="1.5" fill="#0d0d0d"/><circle cx="412.4" cy="563.5" r="1.5" fill="#0d0d0d"/><circle cx="412.4" cy="567.5" r="1.5" fill="#0d0d0d"/><circle cx="412.2" cy="595.4" r="1.6" fill="#efdc84" stroke="#7a6618" stroke-width="0.9"/><line x1="423.5" y1="557.68" x2="423.5" y2="564.72" stroke="#4a4a4a" stroke-width="0.8" stroke-linecap="butt"/><line x1="421.9" y1="557.5" x2="425.1" y2="557.5" stroke="#4a4a4a" stroke-width="0.8" stroke-linecap="butt"/><circle cx="423.5" cy="553.1" r="1.5" fill="#0d0d0d"/><circle cx="421.5" cy="564.2" r="1.5" fill="#0d0d0d"/><circle cx="425.5" cy="563" r="1.5" fill="#0d0d0d"/><circle cx="423.5" cy="594" r="1.6" fill="#efdc84" stroke="#7a6618" stroke-width="0.9"/><line x1="440.5" y1="558.89" x2="440.5" y2="565.91" stroke="#4a4a4a" stroke-width="0.8" stroke-linecap="butt"/><line x1="438.7" y1="558.5" x2="441.9" y2="558.5" stroke="#4a4a4a" stroke-width="0.8" stroke-linecap="butt"/><circle cx="440.3" cy="555.5" r="1.5" fill="#0d0d0d"/><circle cx="440.3" cy="564.7" r="1.5" fill="#0d0d0d"/><circle cx="440.3" cy="567" r="1.5" fill="#0d0d0d"/><circle cx="440.3" cy="595.4" r="1.6" fill="#efdc84" stroke="#7a6618" stroke-width="0.9"/><line x1="451.5" y1="550.81" x2="451.5" y2="560.99" stroke="#4a4a4a" stroke-width="0.8" stroke-linecap="butt"/><line x1="449.9" y1="550.5" x2="453.1" y2="550.5" stroke="#4a4a4a" stroke-width="0.8" stroke-linecap="butt"/><circle cx="451.4" cy="547.4" r="1.5" fill="#0d0d0d"/><circle cx="451.4" cy="553.1" r="1.5" fill="#0d0d0d"/><circle cx="451.4" cy="564.7" r="1.5" fill="#0d0d0d"/><circle cx="451.5" cy="593.6" r="1.6" fill="#efdc84" stroke="#7a6618" stroke-width="0.9"/><line x1="462.5" y1="550.56" x2="462.5" y2="562.64" stroke="#4a4a4a" stroke-width="0.8" stroke-linecap="butt"/><line x1="461.1" y1="550.5" x2="464.3" y2="550.5" stroke="#4a4a4a" stroke-width="0.8" stroke-linecap="butt"/><circle cx="462.7" cy="543.9" r="1.5" fill="#0d0d0d"/><circle cx="462.7" cy="560" r="1.5" fill="#0d0d0d"/><circle cx="462.7" cy="563.5" r="1.5" fill="#0d0d0d"/><circle cx="462.7" cy="594" r="1.6" fill="#efdc84" stroke="#7a6618" stroke-width="0.9"/><rect x="341.2" y="520" width="7.6" height="8.7" fill="#7a76c0"/><line x1="345.5" y1="514.1" x2="345.5" y2="523" stroke="#4a4a4a" stroke-width="0.8" stroke-linecap="butt"/><line x1="343.4" y1="514.5" x2="346.6" y2="514.5" stroke="#4a4a4a" stroke-width="0.8" stroke-linecap="butt"/><circle cx="343" cy="525.2" r="1.5" fill="#0d0d0d"/><circle cx="348" cy="525.2" r="1.5" fill="#0d0d0d"/><circle cx="344.7" cy="510.2" r="1.5" fill="#0d0d0d"/><circle cx="345" cy="507.7" r="1.6" fill="#efdc84" stroke="#7a6618" stroke-width="0.9"/><line x1="328.5" y1="602.6" x2="328.5" y2="604.8" stroke="#1a1a1a" stroke-width="0.9" stroke-linecap="butt"/><text transform="translate(331,610.8) rotate(-45)" font-size="8" text-anchor="end" fill="#333333" textLength="29.4" lengthAdjust="spacingAndGlyphs" stroke="#333" stroke-width="0.2">No LNP</text><line x1="345.5" y1="602.6" x2="345.5" y2="604.8" stroke="#1a1a1a" stroke-width="0.9" stroke-linecap="butt"/><text transform="translate(348,610.8) rotate(-45)" font-size="8" text-anchor="end" fill="#333333" textLength="30.45" lengthAdjust="spacingAndGlyphs" stroke="#333" stroke-width="0.2">CRP-XL</text><line x1="362.5" y1="602.6" x2="362.5" y2="604.8" stroke="#1a1a1a" stroke-width="0.9" stroke-linecap="butt"/><text transform="translate(365,610.8) rotate(-45)" font-size="8" text-anchor="end" fill="#333333" textLength="17.85" lengthAdjust="spacingAndGlyphs" stroke="#333" stroke-width="0.2">0.5%</text><line x1="373.5" y1="602.6" x2="373.5" y2="604.8" stroke="#1a1a1a" stroke-width="0.9" stroke-linecap="butt"/><text transform="translate(376.1,610.8) rotate(-45)" font-size="8" text-anchor="end" fill="#333333" textLength="17.85" lengthAdjust="spacingAndGlyphs" stroke="#333" stroke-width="0.2">1.5%</text><line x1="384.5" y1="602.6" x2="384.5" y2="604.8" stroke="#1a1a1a" stroke-width="0.9" stroke-linecap="butt"/><text transform="translate(387.2,610.8) rotate(-45)" font-size="8" text-anchor="end" fill="#333333" textLength="17.85" lengthAdjust="spacingAndGlyphs" stroke="#333" stroke-width="0.2">2.5%</text><line x1="400.5" y1="602.6" x2="400.5" y2="604.8" stroke="#1a1a1a" stroke-width="0.9" stroke-linecap="butt"/><text transform="translate(403.9,610.8) rotate(-45)" font-size="8" text-anchor="end" fill="#333333" textLength="17.85" lengthAdjust="spacingAndGlyphs" stroke="#333" stroke-width="0.2">0.5%</text><line x1="412.5" y1="602.6" x2="412.5" y2="604.8" stroke="#1a1a1a" stroke-width="0.9" stroke-linecap="butt"/><text transform="translate(415.2,610.8) rotate(-45)" font-size="8" text-anchor="end" fill="#333333" textLength="17.85" lengthAdjust="spacingAndGlyphs" stroke="#333" stroke-width="0.2">1.5%</text><line x1="423.5" y1="602.6" x2="423.5" y2="604.8" stroke="#1a1a1a" stroke-width="0.9" stroke-linecap="butt"/><text transform="translate(426.5,610.8) rotate(-45)" font-size="8" text-anchor="end" fill="#333333" textLength="17.85" lengthAdjust="spacingAndGlyphs" stroke="#333" stroke-width="0.2">2.5%</text><line x1="440.5" y1="602.6" x2="440.5" y2="604.8" stroke="#1a1a1a" stroke-width="0.9" stroke-linecap="butt"/><text transform="translate(443.3,610.8) rotate(-45)" font-size="8" text-anchor="end" fill="#333333" textLength="17.85" lengthAdjust="spacingAndGlyphs" stroke="#333" stroke-width="0.2">0.5%</text><line x1="451.5" y1="602.6" x2="451.5" y2="604.8" stroke="#1a1a1a" stroke-width="0.9" stroke-linecap="butt"/><text transform="translate(454.5,610.8) rotate(-45)" font-size="8" text-anchor="end" fill="#333333" textLength="17.85" lengthAdjust="spacingAndGlyphs" stroke="#333" stroke-width="0.2">1.5%</text><line x1="462.5" y1="602.6" x2="462.5" y2="604.8" stroke="#1a1a1a" stroke-width="0.9" stroke-linecap="butt"/><text transform="translate(465.7,610.8) rotate(-45)" font-size="8" text-anchor="end" fill="#333333" textLength="17.85" lengthAdjust="spacingAndGlyphs" stroke="#333" stroke-width="0.2">2.5%</text><line x1="348.6" y1="635.5" x2="381.8" y2="635.5" stroke="#555555" stroke-width="0.9" stroke-linecap="butt"/><text x="365.2" y="644.6" font-size="9.2" text-anchor="middle" fill="#333333" textLength="39.4" lengthAdjust="spacingAndGlyphs" stroke="#333333" stroke-width="0.3">DMG-PEG</text><line x1="389.9" y1="635.5" x2="422.2" y2="635.5" stroke="#555555" stroke-width="0.9" stroke-linecap="butt"/><text x="406.05" y="644.6" font-size="9.2" text-anchor="middle" fill="#333333" textLength="33.7" lengthAdjust="spacingAndGlyphs" stroke="#333333" stroke-width="0.3">ALC-0159</text><line x1="430.3" y1="635.5" x2="462.6" y2="635.5" stroke="#555555" stroke-width="0.9" stroke-linecap="butt"/><text x="446.45" y="644.6" font-size="9.2" text-anchor="middle" fill="#333333" textLength="35" lengthAdjust="spacingAndGlyphs" stroke="#333333" stroke-width="0.3">DSG-PEG</text><text x="394" y="656.6" font-size="9.8" text-anchor="middle" fill="#333333" textLength="53.9" lengthAdjust="spacingAndGlyphs" stroke="#333333" stroke-width="0.3">PEGylated lipids</text><polyline points="332.5,500.5 332.5,496.5 344.5,496.5 344.5,500.5" fill="none" stroke="#555555" stroke-width="0.9"/><line x1="333.66" y1="490.55" x2="333.66" y2="493.45" stroke="#222" stroke-width="0.85"/><line x1="332.41" y1="491.27" x2="334.92" y2="492.73" stroke="#222" stroke-width="0.85"/><line x1="334.92" y1="491.27" x2="332.41" y2="492.73" stroke="#222" stroke-width="0.85"/><line x1="337.09" y1="490.55" x2="337.09" y2="493.45" stroke="#222" stroke-width="0.85"/><line x1="335.83" y1="491.27" x2="338.34" y2="492.73" stroke="#222" stroke-width="0.85"/><line x1="338.34" y1="491.27" x2="335.83" y2="492.73" stroke="#222" stroke-width="0.85"/><line x1="340.51" y1="490.55" x2="340.51" y2="493.45" stroke="#222" stroke-width="0.85"/><line x1="339.26" y1="491.27" x2="341.77" y2="492.73" stroke="#222" stroke-width="0.85"/><line x1="341.77" y1="491.27" x2="339.26" y2="492.73" stroke="#222" stroke-width="0.85"/><line x1="343.94" y1="490.55" x2="343.94" y2="493.45" stroke="#222" stroke-width="0.85"/><line x1="342.68" y1="491.27" x2="345.19" y2="492.73" stroke="#222" stroke-width="0.85"/><line x1="345.19" y1="491.27" x2="342.68" y2="492.73" stroke="#222" stroke-width="0.85"/><polyline points="327.5,532.5 327.5,484.5 414.5,484.5 414.5,534.5" fill="none" stroke="#9c9c9c" stroke-width="1.1"/><line x1="349.5" y1="534.5" x2="466.2" y2="534.5" stroke="#9c9c9c" stroke-width="1.1" stroke-linecap="butt"/><text x="370" y="479.6" font-size="7.4" text-anchor="middle" fill="#444" textLength="8.6" lengthAdjust="spacingAndGlyphs" stroke="#444" stroke-width="0.1">ns</text><text transform="translate(274.8,550.5) rotate(-90)" font-size="9" text-anchor="middle" fill="#333333" textLength="61.4" lengthAdjust="spacingAndGlyphs" stroke="#333333" stroke-width="0.3">Platelet activation:</text><text transform="translate(285.6,550.5) rotate(-90)" font-size="9" text-anchor="middle" fill="#2f9a6e" textLength="37" lengthAdjust="spacingAndGlyphs" stroke="#2f9a6e" stroke-width="0.3">CD62P MFI</text><text transform="translate(498.5,551) rotate(90)" font-size="9" text-anchor="middle" fill="#f2ae50" stroke="#f2ae50" stroke-width="0.3" textLength="71" lengthAdjust="spacingAndGlyphs">CD62P<tspan dy="-2.5" font-size="6">+</tspan><tspan dy="2.5"> platelets (%)</tspan></text></svg></body></html>
